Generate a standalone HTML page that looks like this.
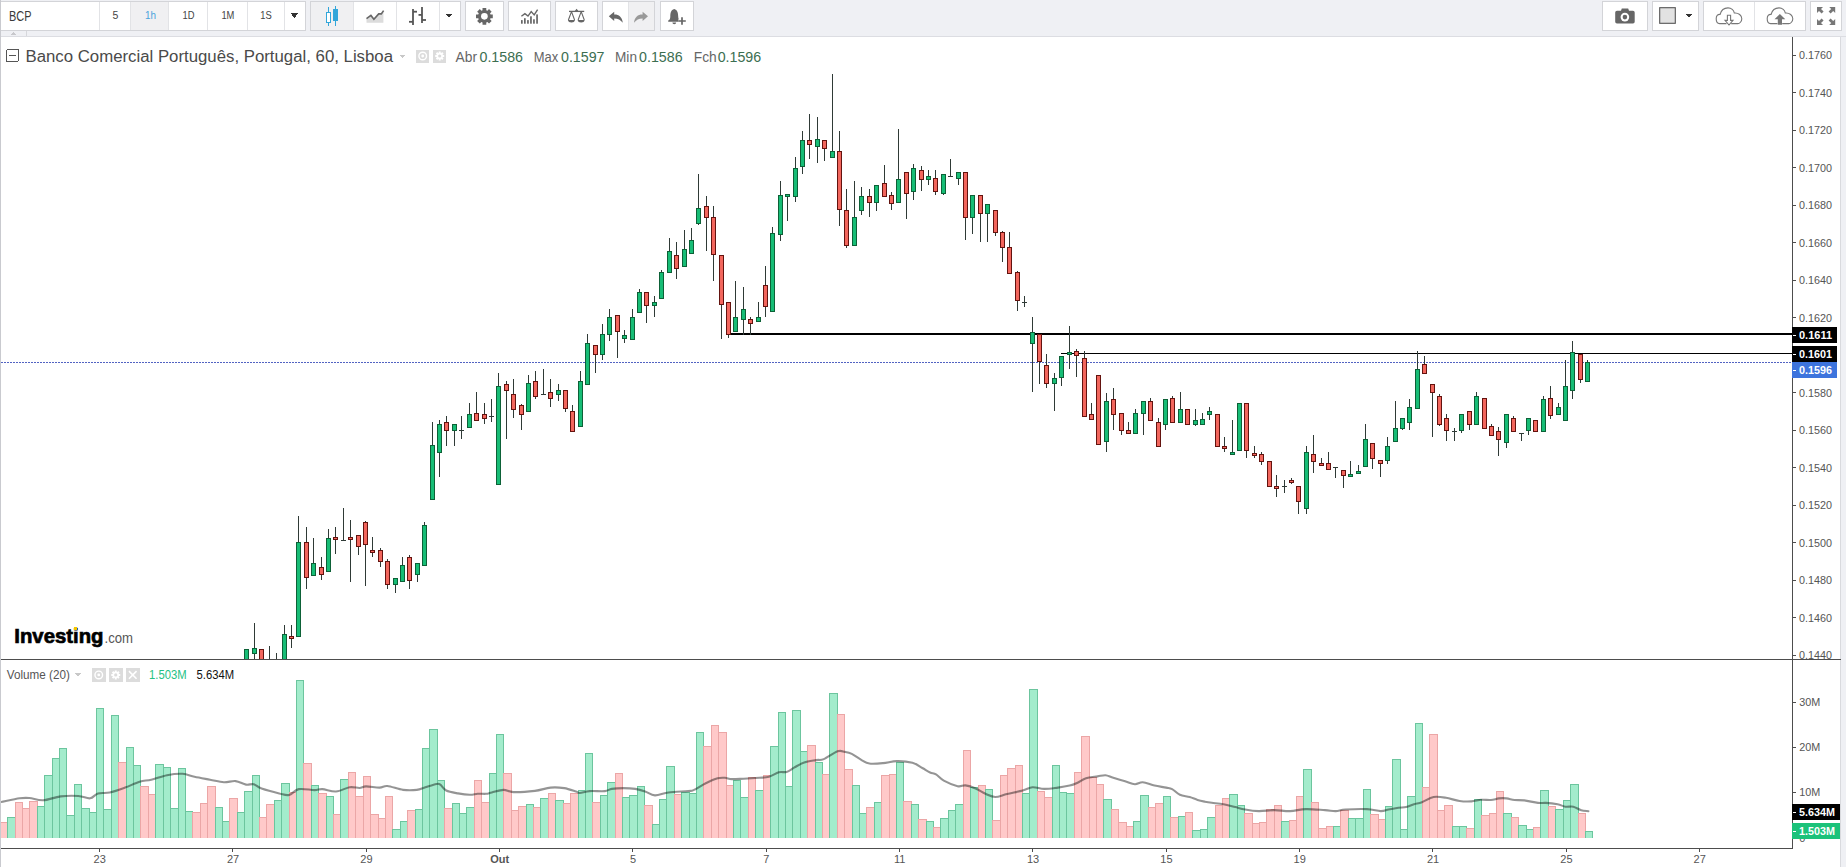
<!DOCTYPE html>
<html><head><meta charset="utf-8"><title>BCP chart</title>
<style>
html,body{margin:0;padding:0;background:#fff;width:1846px;height:867px;overflow:hidden;font-family:"Liberation Sans",sans-serif;}
svg{display:block;}
</style></head><body>
<svg width="1846" height="867" viewBox="0 0 1846 867" shape-rendering="crispEdges">
<defs>
<clipPath id="priceclip"><rect x="1" y="37" width="1791" height="622"/></clipPath>
<clipPath id="volclip"><rect x="1" y="660" width="1791" height="178"/></clipPath>
</defs>
<rect x="0" y="0" width="1846" height="37" fill="#eff0f4"/>
<rect x="0" y="36" width="1846" height="1" fill="#dcdde2"/>
<rect x="0.5" y="1.5" width="305" height="29" fill="#fff" stroke="#d3d4d8" stroke-width="1"/>
<rect x="131" y="2" width="37" height="28" fill="#f0f0f2"/>
<rect x="99" y="2" width="1" height="28" fill="#e2e3e6"/>
<rect x="130" y="2" width="1" height="28" fill="#e2e3e6"/>
<rect x="168" y="2" width="1" height="28" fill="#e2e3e6"/>
<rect x="207" y="2" width="1" height="28" fill="#e2e3e6"/>
<rect x="247" y="2" width="1" height="28" fill="#e2e3e6"/>
<rect x="284" y="2" width="1" height="28" fill="#e2e3e6"/>
<rect x="310.5" y="1.5" width="150" height="29" fill="#fff" stroke="#d3d4d8" stroke-width="1"/>
<rect x="311" y="2" width="42" height="28" fill="#f0f0f2"/>
<rect x="353" y="2" width="1" height="28" fill="#e2e3e6"/>
<rect x="396" y="2" width="1" height="28" fill="#e2e3e6"/>
<rect x="439" y="2" width="1" height="28" fill="#e2e3e6"/>
<rect x="465.5" y="1.5" width="38" height="29" fill="#fff" stroke="#d3d4d8" stroke-width="1"/>
<rect x="508.5" y="1.5" width="42" height="29" fill="#fff" stroke="#d3d4d8" stroke-width="1"/>
<rect x="555.5" y="1.5" width="42" height="29" fill="#fff" stroke="#d3d4d8" stroke-width="1"/>
<rect x="602.5" y="1.5" width="52" height="29" fill="#fff" stroke="#d3d4d8" stroke-width="1"/>
<rect x="629" y="2" width="25" height="28" fill="#f0f0f2"/>
<rect x="628" y="2" width="1" height="28" fill="#e2e3e6"/>
<rect x="660.5" y="1.5" width="33" height="29" fill="#fff" stroke="#d3d4d8" stroke-width="1"/>
<rect x="1602.5" y="1.5" width="45" height="29" fill="#fff" stroke="#d3d4d8" stroke-width="1"/>
<rect x="1652.5" y="1.5" width="46" height="29" fill="#fff" stroke="#d3d4d8" stroke-width="1"/>
<rect x="1703.5" y="1.5" width="102" height="29" fill="#fff" stroke="#d3d4d8" stroke-width="1"/>
<rect x="1754" y="2" width="1" height="28" fill="#e2e3e6"/>
<rect x="1810.5" y="1.5" width="31" height="29" fill="#fff" stroke="#d3d4d8" stroke-width="1"/>
<text x="9" y="21" font-family='"Liberation Sans", sans-serif' font-size="14" fill="#3a3a3a" text-anchor="start" font-weight="normal" textLength="22.5" lengthAdjust="spacingAndGlyphs">BCP</text>
<text x="115.3" y="19.2" font-family='"Liberation Sans", sans-serif' font-size="10.5" fill="#444" text-anchor="middle" font-weight="normal">5</text>
<text x="150.4" y="19.2" font-family='"Liberation Sans", sans-serif' font-size="10.5" fill="#4aa3dc" text-anchor="middle" font-weight="normal" textLength="11" lengthAdjust="spacingAndGlyphs">1h</text>
<text x="188.6" y="19.2" font-family='"Liberation Sans", sans-serif' font-size="10.5" fill="#444" text-anchor="middle" font-weight="normal" textLength="12" lengthAdjust="spacingAndGlyphs">1D</text>
<text x="227.9" y="19.2" font-family='"Liberation Sans", sans-serif' font-size="10.5" fill="#444" text-anchor="middle" font-weight="normal" textLength="13" lengthAdjust="spacingAndGlyphs">1M</text>
<text x="266" y="19.2" font-family='"Liberation Sans", sans-serif' font-size="10.5" fill="#444" text-anchor="middle" font-weight="normal" textLength="11.5" lengthAdjust="spacingAndGlyphs">1S</text>
<path d="M290.5 13.25 L298.5 13.25 L294.5 17.75 Z" fill="#333"/>
<path d="M445.25 14.0 L452.75 14.0 L449 18.0 Z" fill="#333"/>
<path d="M1685.25 14.0 L1692.75 14.0 L1689 18.0 Z" fill="#333"/>
<g shape-rendering="geometricPrecision">
<g stroke="#32a6da" stroke-width="1" fill="none"><line x1="328.5" y1="7" x2="328.5" y2="26"/><rect x="326.5" y="12.5" width="4" height="10" fill="#fff"/><line x1="335.5" y1="6" x2="335.5" y2="26"/><rect x="333.5" y="9.5" width="4" height="11" fill="#32a6da"/></g>
<path d="M366.5 22.7 L366.5 18.6 L370.9 15.4 L373.9 19.2 L378.7 13.9 L381.3 13.9 L383.4 10.8 L383.4 22.7 Z" fill="#dcdcdc"/>
<polyline points="366.5,18.6 370.9,15.4 373.9,19.2 378.7,13.9 381.3,13.9 383.6,10.6" fill="none" stroke="#666" stroke-width="1.6"/>
<g stroke="#555" stroke-width="1.8" fill="none"><line x1="413" y1="9" x2="413" y2="25"/><line x1="409" y1="21.8" x2="413" y2="21.8"/><line x1="413" y1="11.7" x2="417" y2="11.7"/><line x1="422" y1="7" x2="422" y2="23"/><line x1="418.5" y1="14.9" x2="422" y2="14.9"/><line x1="422" y1="20" x2="426" y2="20"/></g>
<path d="M482.53 10.18 L482.52 7.91 L486.28 7.91 L486.27 10.18 L487.40 10.65 L489.01 9.04 L491.66 11.69 L490.05 13.30 L490.52 14.43 L492.79 14.42 L492.79 18.18 L490.52 18.17 L490.05 19.30 L491.66 20.91 L489.01 23.56 L487.40 21.95 L486.27 22.42 L486.28 24.69 L482.52 24.69 L482.53 22.42 L481.40 21.95 L479.79 23.56 L477.14 20.91 L478.75 19.30 L478.28 18.17 L476.01 18.18 L476.01 14.42 L478.28 14.43 L478.75 13.30 L477.14 11.69 L479.79 9.04 L481.40 10.65 Z" fill="#666"/>
<circle cx="484.4" cy="16.3" r="3.33" fill="#fff"/>
<g fill="#666"><rect x="521.0" y="20.1" width="1.7" height="3.599999999999998"/><rect x="524.0" y="18.2" width="1.7" height="5.5"/><rect x="527.1" y="20.1" width="1.7" height="3.599999999999998"/><rect x="530.1" y="16.3" width="1.7" height="7.399999999999999"/><rect x="533.1" y="19.3" width="1.7" height="4.399999999999999"/><rect x="536.2" y="14.4" width="1.7" height="9.299999999999999"/></g>
<polyline points="521.4,16.2 524.9,13.6 528,16.1 531.2,11.6 534.2,14.9 537.6,9.6" fill="none" stroke="#666" stroke-width="1.4"/>
<g stroke="#666" stroke-width="1.1" fill="none"><line x1="569" y1="11.4" x2="584.2" y2="11.4" stroke-width="1.3"/><path d="M576.6 9.6 L575.2 11.4 L578 11.4 Z" fill="#666"/><path d="M571.5 11.6 L568.4 20 M571.5 11.6 L574.6 20"/><path d="M581.2 11.6 L578.1 20 M581.2 11.6 L584.3 20"/></g>
<path d="M567.9 20 L575 20 A3.6 3 0 0 1 567.9 20 Z" fill="#666"/>
<path d="M577.6 20 L584.7 20 A3.6 3 0 0 1 577.6 20 Z" fill="#666"/>
<path d="M608.8 16.2 L614.2 11.8 L614.2 14.6 C618.5 14.4 622.2 17 622.8 22.8 C620.6 19.8 618 18.4 614.2 18.4 L614.2 21 Z" fill="#666"/>
<path d="M648 16.2 L642.6 11.8 L642.6 14.6 C638.3 14.4 634.6 17 634 22.8 C636.2 19.8 638.8 18.4 642.6 18.4 L642.6 21 Z" fill="#999"/>
<path d="M674.2 9 C671 9.8 670.3 13 670.3 16.5 C670.3 18.8 669.6 20.2 668.2 20.6 L668.2 21.8 L680.5 21.8 L680.5 20.6 C679 20.2 678.2 18.8 678.2 16.5 C678.2 13 677.4 9.8 674.2 9 Z" fill="#666"/>
<path d="M672.4 22.6 A1.9 1.6 0 0 0 676.2 22.6 Z" fill="#666"/>
<path d="M678.3 21 L685.8 21 M682 17.2 L682 24.8" stroke="#fff" stroke-width="3.6"/>
<path d="M678.3 21 L685.8 21 M682 17.2 L682 24.8" stroke="#666" stroke-width="1.7"/>
<path d="M1617 10.8 L1621 10.8 L1621.8 8.4 L1628.2 8.4 L1629 10.8 L1633 10.8 Q1634.7 10.8 1634.7 12.5 L1634.7 21.8 Q1634.7 23.5 1633 23.5 L1617 23.5 Q1615.2 23.5 1615.2 21.8 L1615.2 12.5 Q1615.2 10.8 1617 10.8 Z" fill="#666"/>
<circle cx="1624.9" cy="17.1" r="4.3" fill="#fff"/><circle cx="1624.9" cy="17.1" r="2.3" fill="#666"/>
<rect x="1659.7" y="7.7" width="15.6" height="15.6" fill="#e2e2e2" stroke="#555" stroke-width="1.1"/>
<path d="M1726.5 23.6 L1719.6 23.6 C1717.3 23.6 1716.2 21 1716.2 18.8 C1716.2 16 1717.6 14.2 1720.1 14.4 C1721.2 10 1724.8 7.9 1728.0 7.9 C1731.4 7.9 1733.8 10.5 1734.3 13 C1738.6 12.6 1741.8 15.5 1741.8 18.8 C1741.8 21.6 1739.5 23.6 1737.8 23.6 L1731.2 23.6" fill="none" stroke="#777" stroke-width="1.1"/>
<path d="M1727.4 15.3 L1730.6 15.3 L1730.6 20.4 L1733 20.4 L1729 25 L1725 20.4 L1727.4 20.4 Z" fill="#fff" stroke="#777" stroke-width="1.1"/>
<path d="M1777.5 23.6 L1770.6 23.6 C1768.3 23.6 1767.2 21 1767.2 18.8 C1767.2 16 1768.6 14.2 1771.1 14.4 C1772.2 10 1775.8 7.9 1779.0 7.9 C1782.4 7.9 1784.8 10.5 1785.3 13 C1789.6 12.6 1792.8 15.5 1792.8 18.8 C1792.8 21.6 1790.5 23.6 1788.8 23.6 L1782.2 23.6" fill="none" stroke="#777" stroke-width="1.1"/>
<path d="M1779.9 14 L1785.3 19.3 L1782 19.3 L1782 24.8 L1777.8 24.8 L1777.8 19.3 L1774.5 19.3 Z" fill="#777"/>
<g fill="#777"><path d="M1817 7 L1823 7 L1821 9 L1823.6 11.6 L1821.6 13.6 L1819 11 L1817 13 Z"/><path d="M1835.2 7 L1829.2 7 L1831.2 9 L1828.6 11.6 L1830.6 13.6 L1833.2 11 L1835.2 13 Z"/><path d="M1817 25 L1823 25 L1821 23 L1823.6 20.4 L1821.6 18.4 L1819 21 L1817 19 Z"/><path d="M1835.2 25 L1829.2 25 L1831.2 23 L1828.6 20.4 L1830.6 18.4 L1833.2 21 L1835.2 19 Z"/></g>
</g>
<path d="M10.5 35 L13.5 32.3 L16.5 35 Z" fill="#c8c8cc"/>
<rect x="26" y="31" width="1" height="5" fill="#d6d7db"/>
<rect x="0" y="37" width="1840" height="830" fill="#fff"/>
<rect x="1840" y="37" width="1" height="830" fill="#d9dade"/>
<rect x="1841" y="37" width="5" height="830" fill="#eff0f4"/>
<rect x="0" y="0" width="1" height="867" fill="#c9cacf"/>
<g clip-path="url(#volclip)">
<rect x="0.5" y="822.3" width="7" height="23.2" fill="#ffc9c9" stroke="#eba6a6" stroke-width="1"/>
<rect x="7.5" y="817.5" width="8" height="28.0" fill="#a3eccc" stroke="#6cc59e" stroke-width="1"/>
<rect x="15.5" y="802.7" width="7" height="42.8" fill="#ffc9c9" stroke="#eba6a6" stroke-width="1"/>
<rect x="22.5" y="808.6" width="7" height="36.9" fill="#ffc9c9" stroke="#eba6a6" stroke-width="1"/>
<rect x="29.5" y="801.4" width="8" height="44.1" fill="#ffc9c9" stroke="#eba6a6" stroke-width="1"/>
<rect x="37.5" y="806.7" width="7" height="38.8" fill="#a3eccc" stroke="#6cc59e" stroke-width="1"/>
<rect x="44.5" y="775.7" width="8" height="69.8" fill="#a3eccc" stroke="#6cc59e" stroke-width="1"/>
<rect x="52.5" y="758.7" width="7" height="86.8" fill="#a3eccc" stroke="#6cc59e" stroke-width="1"/>
<rect x="59.5" y="748.5" width="7" height="97.0" fill="#a3eccc" stroke="#6cc59e" stroke-width="1"/>
<rect x="66.5" y="815.5" width="8" height="30.0" fill="#a3eccc" stroke="#6cc59e" stroke-width="1"/>
<rect x="74.5" y="784.5" width="7" height="61.0" fill="#a3eccc" stroke="#6cc59e" stroke-width="1"/>
<rect x="81.5" y="808.6" width="8" height="36.9" fill="#a3eccc" stroke="#6cc59e" stroke-width="1"/>
<rect x="89.5" y="812.5" width="7" height="33.0" fill="#a3eccc" stroke="#6cc59e" stroke-width="1"/>
<rect x="96.5" y="708.7" width="7" height="136.8" fill="#a3eccc" stroke="#6cc59e" stroke-width="1"/>
<rect x="103.5" y="809.6" width="8" height="35.9" fill="#a3eccc" stroke="#6cc59e" stroke-width="1"/>
<rect x="111.5" y="715.6" width="7" height="129.9" fill="#a3eccc" stroke="#6cc59e" stroke-width="1"/>
<rect x="118.5" y="762.6" width="8" height="82.9" fill="#ffc9c9" stroke="#eba6a6" stroke-width="1"/>
<rect x="126.5" y="747.9" width="7" height="97.6" fill="#a3eccc" stroke="#6cc59e" stroke-width="1"/>
<rect x="133.5" y="765.9" width="7" height="79.6" fill="#a3eccc" stroke="#6cc59e" stroke-width="1"/>
<rect x="140.5" y="786.7" width="8" height="58.8" fill="#ffc9c9" stroke="#eba6a6" stroke-width="1"/>
<rect x="148.5" y="794.5" width="7" height="51.0" fill="#ffc9c9" stroke="#eba6a6" stroke-width="1"/>
<rect x="155.5" y="764.0" width="8" height="81.5" fill="#a3eccc" stroke="#6cc59e" stroke-width="1"/>
<rect x="163.5" y="767.9" width="7" height="77.6" fill="#a3eccc" stroke="#6cc59e" stroke-width="1"/>
<rect x="170.5" y="808.6" width="8" height="36.9" fill="#a3eccc" stroke="#6cc59e" stroke-width="1"/>
<rect x="178.5" y="768.5" width="7" height="77.0" fill="#a3eccc" stroke="#6cc59e" stroke-width="1"/>
<rect x="185.5" y="811.6" width="7" height="33.9" fill="#a3eccc" stroke="#6cc59e" stroke-width="1"/>
<rect x="192.5" y="812.5" width="8" height="33.0" fill="#ffc9c9" stroke="#eba6a6" stroke-width="1"/>
<rect x="200.5" y="803.7" width="7" height="41.8" fill="#ffc9c9" stroke="#eba6a6" stroke-width="1"/>
<rect x="207.5" y="786.7" width="8" height="58.8" fill="#ffc9c9" stroke="#eba6a6" stroke-width="1"/>
<rect x="215.5" y="807.6" width="7" height="37.9" fill="#a3eccc" stroke="#6cc59e" stroke-width="1"/>
<rect x="222.5" y="821.4" width="7" height="24.1" fill="#a3eccc" stroke="#6cc59e" stroke-width="1"/>
<rect x="229.5" y="798.5" width="8" height="47.0" fill="#ffc9c9" stroke="#eba6a6" stroke-width="1"/>
<rect x="237.5" y="812.7" width="7" height="32.8" fill="#a3eccc" stroke="#6cc59e" stroke-width="1"/>
<rect x="244.5" y="791.6" width="8" height="53.9" fill="#a3eccc" stroke="#6cc59e" stroke-width="1"/>
<rect x="252.5" y="775.9" width="7" height="69.6" fill="#a3eccc" stroke="#6cc59e" stroke-width="1"/>
<rect x="259.5" y="817.5" width="7" height="28.0" fill="#ffc9c9" stroke="#eba6a6" stroke-width="1"/>
<rect x="266.5" y="804.7" width="8" height="40.8" fill="#ffc9c9" stroke="#eba6a6" stroke-width="1"/>
<rect x="274.5" y="800.4" width="7" height="45.1" fill="#a3eccc" stroke="#6cc59e" stroke-width="1"/>
<rect x="281.5" y="783.7" width="8" height="61.8" fill="#a3eccc" stroke="#6cc59e" stroke-width="1"/>
<rect x="289.5" y="792.0" width="7" height="53.5" fill="#ffc9c9" stroke="#eba6a6" stroke-width="1"/>
<rect x="296.5" y="680.7" width="7" height="164.8" fill="#a3eccc" stroke="#6cc59e" stroke-width="1"/>
<rect x="303.5" y="763.8" width="8" height="81.7" fill="#ffc9c9" stroke="#eba6a6" stroke-width="1"/>
<rect x="311.5" y="785.7" width="7" height="59.8" fill="#a3eccc" stroke="#6cc59e" stroke-width="1"/>
<rect x="318.5" y="793.5" width="8" height="52.0" fill="#ffc9c9" stroke="#eba6a6" stroke-width="1"/>
<rect x="326.5" y="796.5" width="7" height="49.0" fill="#a3eccc" stroke="#6cc59e" stroke-width="1"/>
<rect x="333.5" y="814.5" width="7" height="31.0" fill="#ffc9c9" stroke="#eba6a6" stroke-width="1"/>
<rect x="340.5" y="779.6" width="8" height="65.9" fill="#a3eccc" stroke="#6cc59e" stroke-width="1"/>
<rect x="348.5" y="772.6" width="7" height="72.9" fill="#ffc9c9" stroke="#eba6a6" stroke-width="1"/>
<rect x="355.5" y="796.5" width="8" height="49.0" fill="#ffc9c9" stroke="#eba6a6" stroke-width="1"/>
<rect x="363.5" y="776.7" width="7" height="68.8" fill="#ffc9c9" stroke="#eba6a6" stroke-width="1"/>
<rect x="370.5" y="814.5" width="8" height="31.0" fill="#ffc9c9" stroke="#eba6a6" stroke-width="1"/>
<rect x="378.5" y="818.4" width="7" height="27.1" fill="#ffc9c9" stroke="#eba6a6" stroke-width="1"/>
<rect x="385.5" y="796.5" width="7" height="49.0" fill="#ffc9c9" stroke="#eba6a6" stroke-width="1"/>
<rect x="392.5" y="829.6" width="8" height="15.9" fill="#a3eccc" stroke="#6cc59e" stroke-width="1"/>
<rect x="400.5" y="821.4" width="7" height="24.1" fill="#a3eccc" stroke="#6cc59e" stroke-width="1"/>
<rect x="407.5" y="810.6" width="8" height="34.9" fill="#ffc9c9" stroke="#eba6a6" stroke-width="1"/>
<rect x="415.5" y="809.6" width="7" height="35.9" fill="#a3eccc" stroke="#6cc59e" stroke-width="1"/>
<rect x="422.5" y="748.5" width="7" height="97.0" fill="#a3eccc" stroke="#6cc59e" stroke-width="1"/>
<rect x="429.5" y="729.3" width="8" height="116.2" fill="#a3eccc" stroke="#6cc59e" stroke-width="1"/>
<rect x="437.5" y="780.6" width="7" height="64.9" fill="#a3eccc" stroke="#6cc59e" stroke-width="1"/>
<rect x="444.5" y="808.6" width="8" height="36.9" fill="#ffc9c9" stroke="#eba6a6" stroke-width="1"/>
<rect x="452.5" y="803.7" width="7" height="41.8" fill="#a3eccc" stroke="#6cc59e" stroke-width="1"/>
<rect x="459.5" y="813.5" width="7" height="32.0" fill="#a3eccc" stroke="#6cc59e" stroke-width="1"/>
<rect x="466.5" y="807.6" width="8" height="37.9" fill="#a3eccc" stroke="#6cc59e" stroke-width="1"/>
<rect x="474.5" y="780.8" width="7" height="64.7" fill="#ffc9c9" stroke="#eba6a6" stroke-width="1"/>
<rect x="481.5" y="802.7" width="8" height="42.8" fill="#ffc9c9" stroke="#eba6a6" stroke-width="1"/>
<rect x="489.5" y="773.8" width="7" height="71.7" fill="#a3eccc" stroke="#6cc59e" stroke-width="1"/>
<rect x="496.5" y="734.6" width="7" height="110.9" fill="#a3eccc" stroke="#6cc59e" stroke-width="1"/>
<rect x="503.5" y="773.8" width="8" height="71.7" fill="#ffc9c9" stroke="#eba6a6" stroke-width="1"/>
<rect x="511.5" y="810.6" width="7" height="34.9" fill="#ffc9c9" stroke="#eba6a6" stroke-width="1"/>
<rect x="518.5" y="806.7" width="8" height="38.8" fill="#ffc9c9" stroke="#eba6a6" stroke-width="1"/>
<rect x="526.5" y="804.7" width="7" height="40.8" fill="#a3eccc" stroke="#6cc59e" stroke-width="1"/>
<rect x="533.5" y="807.6" width="7" height="37.9" fill="#ffc9c9" stroke="#eba6a6" stroke-width="1"/>
<rect x="540.5" y="798.4" width="8" height="47.1" fill="#a3eccc" stroke="#6cc59e" stroke-width="1"/>
<rect x="548.5" y="793.5" width="7" height="52.0" fill="#ffc9c9" stroke="#eba6a6" stroke-width="1"/>
<rect x="555.5" y="800.4" width="8" height="45.1" fill="#a3eccc" stroke="#6cc59e" stroke-width="1"/>
<rect x="563.5" y="803.7" width="7" height="41.8" fill="#ffc9c9" stroke="#eba6a6" stroke-width="1"/>
<rect x="570.5" y="793.5" width="8" height="52.0" fill="#ffc9c9" stroke="#eba6a6" stroke-width="1"/>
<rect x="578.5" y="790.4" width="7" height="55.1" fill="#a3eccc" stroke="#6cc59e" stroke-width="1"/>
<rect x="585.5" y="753.8" width="7" height="91.7" fill="#a3eccc" stroke="#6cc59e" stroke-width="1"/>
<rect x="592.5" y="802.7" width="8" height="42.8" fill="#ffc9c9" stroke="#eba6a6" stroke-width="1"/>
<rect x="600.5" y="795.5" width="7" height="50.0" fill="#a3eccc" stroke="#6cc59e" stroke-width="1"/>
<rect x="607.5" y="782.8" width="8" height="62.7" fill="#a3eccc" stroke="#6cc59e" stroke-width="1"/>
<rect x="615.5" y="773.8" width="7" height="71.7" fill="#ffc9c9" stroke="#eba6a6" stroke-width="1"/>
<rect x="622.5" y="797.8" width="7" height="47.7" fill="#a3eccc" stroke="#6cc59e" stroke-width="1"/>
<rect x="629.5" y="795.5" width="8" height="50.0" fill="#a3eccc" stroke="#6cc59e" stroke-width="1"/>
<rect x="637.5" y="786.7" width="7" height="58.8" fill="#a3eccc" stroke="#6cc59e" stroke-width="1"/>
<rect x="644.5" y="805.7" width="8" height="39.8" fill="#ffc9c9" stroke="#eba6a6" stroke-width="1"/>
<rect x="652.5" y="824.7" width="7" height="20.8" fill="#a3eccc" stroke="#6cc59e" stroke-width="1"/>
<rect x="659.5" y="799.4" width="7" height="46.1" fill="#a3eccc" stroke="#6cc59e" stroke-width="1"/>
<rect x="666.5" y="766.5" width="8" height="79.0" fill="#a3eccc" stroke="#6cc59e" stroke-width="1"/>
<rect x="674.5" y="794.3" width="7" height="51.2" fill="#ffc9c9" stroke="#eba6a6" stroke-width="1"/>
<rect x="681.5" y="792.0" width="8" height="53.5" fill="#a3eccc" stroke="#6cc59e" stroke-width="1"/>
<rect x="689.5" y="793.0" width="7" height="52.5" fill="#a3eccc" stroke="#6cc59e" stroke-width="1"/>
<rect x="696.5" y="732.8" width="7" height="112.7" fill="#a3eccc" stroke="#6cc59e" stroke-width="1"/>
<rect x="703.5" y="746.5" width="8" height="99.0" fill="#ffc9c9" stroke="#eba6a6" stroke-width="1"/>
<rect x="711.5" y="725.7" width="7" height="119.8" fill="#ffc9c9" stroke="#eba6a6" stroke-width="1"/>
<rect x="718.5" y="732.8" width="8" height="112.7" fill="#ffc9c9" stroke="#eba6a6" stroke-width="1"/>
<rect x="726.5" y="785.7" width="7" height="59.8" fill="#ffc9c9" stroke="#eba6a6" stroke-width="1"/>
<rect x="733.5" y="780.8" width="7" height="64.7" fill="#a3eccc" stroke="#6cc59e" stroke-width="1"/>
<rect x="740.5" y="797.5" width="8" height="48.0" fill="#a3eccc" stroke="#6cc59e" stroke-width="1"/>
<rect x="748.5" y="777.9" width="7" height="67.6" fill="#ffc9c9" stroke="#eba6a6" stroke-width="1"/>
<rect x="755.5" y="790.6" width="8" height="54.9" fill="#a3eccc" stroke="#6cc59e" stroke-width="1"/>
<rect x="763.5" y="775.7" width="7" height="69.8" fill="#ffc9c9" stroke="#eba6a6" stroke-width="1"/>
<rect x="770.5" y="746.5" width="8" height="99.0" fill="#a3eccc" stroke="#6cc59e" stroke-width="1"/>
<rect x="778.5" y="712.6" width="7" height="132.9" fill="#a3eccc" stroke="#6cc59e" stroke-width="1"/>
<rect x="785.5" y="786.7" width="7" height="58.8" fill="#a3eccc" stroke="#6cc59e" stroke-width="1"/>
<rect x="792.5" y="710.7" width="8" height="134.8" fill="#a3eccc" stroke="#6cc59e" stroke-width="1"/>
<rect x="800.5" y="751.8" width="7" height="93.7" fill="#a3eccc" stroke="#6cc59e" stroke-width="1"/>
<rect x="807.5" y="745.5" width="8" height="100.0" fill="#ffc9c9" stroke="#eba6a6" stroke-width="1"/>
<rect x="815.5" y="762.6" width="7" height="82.9" fill="#a3eccc" stroke="#6cc59e" stroke-width="1"/>
<rect x="822.5" y="774.7" width="7" height="70.8" fill="#ffc9c9" stroke="#eba6a6" stroke-width="1"/>
<rect x="829.5" y="693.6" width="8" height="151.9" fill="#a3eccc" stroke="#6cc59e" stroke-width="1"/>
<rect x="837.5" y="714.6" width="7" height="130.9" fill="#ffc9c9" stroke="#eba6a6" stroke-width="1"/>
<rect x="844.5" y="769.4" width="8" height="76.1" fill="#ffc9c9" stroke="#eba6a6" stroke-width="1"/>
<rect x="852.5" y="785.5" width="7" height="60.0" fill="#a3eccc" stroke="#6cc59e" stroke-width="1"/>
<rect x="859.5" y="813.5" width="7" height="32.0" fill="#a3eccc" stroke="#6cc59e" stroke-width="1"/>
<rect x="866.5" y="807.6" width="8" height="37.9" fill="#ffc9c9" stroke="#eba6a6" stroke-width="1"/>
<rect x="874.5" y="802.7" width="7" height="42.8" fill="#a3eccc" stroke="#6cc59e" stroke-width="1"/>
<rect x="881.5" y="775.7" width="8" height="69.8" fill="#ffc9c9" stroke="#eba6a6" stroke-width="1"/>
<rect x="889.5" y="774.7" width="7" height="70.8" fill="#ffc9c9" stroke="#eba6a6" stroke-width="1"/>
<rect x="896.5" y="762.2" width="7" height="83.3" fill="#a3eccc" stroke="#6cc59e" stroke-width="1"/>
<rect x="903.5" y="801.4" width="8" height="44.1" fill="#ffc9c9" stroke="#eba6a6" stroke-width="1"/>
<rect x="911.5" y="804.7" width="7" height="40.8" fill="#a3eccc" stroke="#6cc59e" stroke-width="1"/>
<rect x="918.5" y="819.8" width="8" height="25.7" fill="#ffc9c9" stroke="#eba6a6" stroke-width="1"/>
<rect x="926.5" y="821.4" width="7" height="24.1" fill="#a3eccc" stroke="#6cc59e" stroke-width="1"/>
<rect x="933.5" y="827.2" width="7" height="18.3" fill="#ffc9c9" stroke="#eba6a6" stroke-width="1"/>
<rect x="940.5" y="818.4" width="8" height="27.1" fill="#a3eccc" stroke="#6cc59e" stroke-width="1"/>
<rect x="948.5" y="810.6" width="7" height="34.9" fill="#a3eccc" stroke="#6cc59e" stroke-width="1"/>
<rect x="955.5" y="804.7" width="8" height="40.8" fill="#a3eccc" stroke="#6cc59e" stroke-width="1"/>
<rect x="963.5" y="750.4" width="7" height="95.1" fill="#ffc9c9" stroke="#eba6a6" stroke-width="1"/>
<rect x="970.5" y="787.7" width="8" height="57.8" fill="#a3eccc" stroke="#6cc59e" stroke-width="1"/>
<rect x="978.5" y="785.5" width="7" height="60.0" fill="#ffc9c9" stroke="#eba6a6" stroke-width="1"/>
<rect x="985.5" y="789.6" width="7" height="55.9" fill="#a3eccc" stroke="#6cc59e" stroke-width="1"/>
<rect x="992.5" y="820.8" width="8" height="24.7" fill="#ffc9c9" stroke="#eba6a6" stroke-width="1"/>
<rect x="1000.5" y="775.7" width="7" height="69.8" fill="#ffc9c9" stroke="#eba6a6" stroke-width="1"/>
<rect x="1007.5" y="768.5" width="8" height="77.0" fill="#ffc9c9" stroke="#eba6a6" stroke-width="1"/>
<rect x="1015.5" y="765.5" width="7" height="80.0" fill="#ffc9c9" stroke="#eba6a6" stroke-width="1"/>
<rect x="1022.5" y="793.0" width="7" height="52.5" fill="#a3eccc" stroke="#6cc59e" stroke-width="1"/>
<rect x="1029.5" y="689.5" width="8" height="156.0" fill="#a3eccc" stroke="#6cc59e" stroke-width="1"/>
<rect x="1037.5" y="791.6" width="7" height="53.9" fill="#ffc9c9" stroke="#eba6a6" stroke-width="1"/>
<rect x="1044.5" y="797.5" width="8" height="48.0" fill="#ffc9c9" stroke="#eba6a6" stroke-width="1"/>
<rect x="1052.5" y="765.5" width="7" height="80.0" fill="#a3eccc" stroke="#6cc59e" stroke-width="1"/>
<rect x="1059.5" y="792.6" width="7" height="52.9" fill="#a3eccc" stroke="#6cc59e" stroke-width="1"/>
<rect x="1066.5" y="793.5" width="8" height="52.0" fill="#a3eccc" stroke="#6cc59e" stroke-width="1"/>
<rect x="1074.5" y="772.4" width="7" height="73.1" fill="#ffc9c9" stroke="#eba6a6" stroke-width="1"/>
<rect x="1081.5" y="736.5" width="8" height="109.0" fill="#ffc9c9" stroke="#eba6a6" stroke-width="1"/>
<rect x="1089.5" y="777.3" width="7" height="68.2" fill="#ffc9c9" stroke="#eba6a6" stroke-width="1"/>
<rect x="1096.5" y="784.5" width="7" height="61.0" fill="#ffc9c9" stroke="#eba6a6" stroke-width="1"/>
<rect x="1103.5" y="799.8" width="8" height="45.7" fill="#a3eccc" stroke="#6cc59e" stroke-width="1"/>
<rect x="1111.5" y="809.6" width="7" height="35.9" fill="#ffc9c9" stroke="#eba6a6" stroke-width="1"/>
<rect x="1118.5" y="822.3" width="8" height="23.2" fill="#ffc9c9" stroke="#eba6a6" stroke-width="1"/>
<rect x="1126.5" y="826.7" width="7" height="18.8" fill="#ffc9c9" stroke="#eba6a6" stroke-width="1"/>
<rect x="1133.5" y="821.8" width="7" height="23.7" fill="#a3eccc" stroke="#6cc59e" stroke-width="1"/>
<rect x="1140.5" y="795.5" width="8" height="50.0" fill="#a3eccc" stroke="#6cc59e" stroke-width="1"/>
<rect x="1148.5" y="807.6" width="7" height="37.9" fill="#ffc9c9" stroke="#eba6a6" stroke-width="1"/>
<rect x="1155.5" y="803.7" width="8" height="41.8" fill="#ffc9c9" stroke="#eba6a6" stroke-width="1"/>
<rect x="1163.5" y="796.5" width="7" height="49.0" fill="#a3eccc" stroke="#6cc59e" stroke-width="1"/>
<rect x="1170.5" y="817.5" width="8" height="28.0" fill="#ffc9c9" stroke="#eba6a6" stroke-width="1"/>
<rect x="1178.5" y="816.5" width="7" height="29.0" fill="#a3eccc" stroke="#6cc59e" stroke-width="1"/>
<rect x="1185.5" y="812.5" width="7" height="33.0" fill="#ffc9c9" stroke="#eba6a6" stroke-width="1"/>
<rect x="1192.5" y="830.8" width="8" height="14.7" fill="#a3eccc" stroke="#6cc59e" stroke-width="1"/>
<rect x="1200.5" y="829.6" width="7" height="15.9" fill="#a3eccc" stroke="#6cc59e" stroke-width="1"/>
<rect x="1207.5" y="817.5" width="8" height="28.0" fill="#a3eccc" stroke="#6cc59e" stroke-width="1"/>
<rect x="1215.5" y="805.3" width="7" height="40.2" fill="#ffc9c9" stroke="#eba6a6" stroke-width="1"/>
<rect x="1222.5" y="798.8" width="7" height="46.7" fill="#ffc9c9" stroke="#eba6a6" stroke-width="1"/>
<rect x="1229.5" y="794.5" width="8" height="51.0" fill="#a3eccc" stroke="#6cc59e" stroke-width="1"/>
<rect x="1237.5" y="805.7" width="7" height="39.8" fill="#a3eccc" stroke="#6cc59e" stroke-width="1"/>
<rect x="1244.5" y="813.5" width="8" height="32.0" fill="#ffc9c9" stroke="#eba6a6" stroke-width="1"/>
<rect x="1252.5" y="823.3" width="7" height="22.2" fill="#ffc9c9" stroke="#eba6a6" stroke-width="1"/>
<rect x="1259.5" y="822.7" width="7" height="22.8" fill="#ffc9c9" stroke="#eba6a6" stroke-width="1"/>
<rect x="1266.5" y="809.6" width="8" height="35.9" fill="#ffc9c9" stroke="#eba6a6" stroke-width="1"/>
<rect x="1274.5" y="805.7" width="7" height="39.8" fill="#ffc9c9" stroke="#eba6a6" stroke-width="1"/>
<rect x="1281.5" y="821.4" width="8" height="24.1" fill="#a3eccc" stroke="#6cc59e" stroke-width="1"/>
<rect x="1289.5" y="820.8" width="7" height="24.7" fill="#ffc9c9" stroke="#eba6a6" stroke-width="1"/>
<rect x="1296.5" y="796.5" width="7" height="49.0" fill="#ffc9c9" stroke="#eba6a6" stroke-width="1"/>
<rect x="1303.5" y="769.4" width="8" height="76.1" fill="#a3eccc" stroke="#6cc59e" stroke-width="1"/>
<rect x="1311.5" y="802.7" width="7" height="42.8" fill="#ffc9c9" stroke="#eba6a6" stroke-width="1"/>
<rect x="1318.5" y="828.6" width="8" height="16.9" fill="#ffc9c9" stroke="#eba6a6" stroke-width="1"/>
<rect x="1326.5" y="826.7" width="7" height="18.8" fill="#ffc9c9" stroke="#eba6a6" stroke-width="1"/>
<rect x="1333.5" y="826.7" width="7" height="18.8" fill="#a3eccc" stroke="#6cc59e" stroke-width="1"/>
<rect x="1340.5" y="810.0" width="8" height="35.5" fill="#ffc9c9" stroke="#eba6a6" stroke-width="1"/>
<rect x="1348.5" y="818.8" width="7" height="26.7" fill="#a3eccc" stroke="#6cc59e" stroke-width="1"/>
<rect x="1355.5" y="818.8" width="8" height="26.7" fill="#a3eccc" stroke="#6cc59e" stroke-width="1"/>
<rect x="1363.5" y="789.6" width="7" height="55.9" fill="#a3eccc" stroke="#6cc59e" stroke-width="1"/>
<rect x="1370.5" y="814.5" width="8" height="31.0" fill="#ffc9c9" stroke="#eba6a6" stroke-width="1"/>
<rect x="1378.5" y="819.4" width="7" height="26.1" fill="#ffc9c9" stroke="#eba6a6" stroke-width="1"/>
<rect x="1385.5" y="806.7" width="7" height="38.8" fill="#a3eccc" stroke="#6cc59e" stroke-width="1"/>
<rect x="1392.5" y="759.6" width="8" height="85.9" fill="#a3eccc" stroke="#6cc59e" stroke-width="1"/>
<rect x="1400.5" y="829.6" width="7" height="15.9" fill="#a3eccc" stroke="#6cc59e" stroke-width="1"/>
<rect x="1407.5" y="796.9" width="8" height="48.6" fill="#a3eccc" stroke="#6cc59e" stroke-width="1"/>
<rect x="1415.5" y="723.4" width="7" height="122.1" fill="#a3eccc" stroke="#6cc59e" stroke-width="1"/>
<rect x="1422.5" y="787.7" width="7" height="57.8" fill="#ffc9c9" stroke="#eba6a6" stroke-width="1"/>
<rect x="1429.5" y="734.6" width="8" height="110.9" fill="#ffc9c9" stroke="#eba6a6" stroke-width="1"/>
<rect x="1437.5" y="810.6" width="7" height="34.9" fill="#ffc9c9" stroke="#eba6a6" stroke-width="1"/>
<rect x="1444.5" y="805.7" width="8" height="39.8" fill="#ffc9c9" stroke="#eba6a6" stroke-width="1"/>
<rect x="1452.5" y="826.8" width="7" height="18.7" fill="#a3eccc" stroke="#6cc59e" stroke-width="1"/>
<rect x="1459.5" y="826.8" width="7" height="18.7" fill="#a3eccc" stroke="#6cc59e" stroke-width="1"/>
<rect x="1466.5" y="828.7" width="8" height="16.8" fill="#ffc9c9" stroke="#eba6a6" stroke-width="1"/>
<rect x="1474.5" y="799.9" width="7" height="45.6" fill="#a3eccc" stroke="#6cc59e" stroke-width="1"/>
<rect x="1481.5" y="815.6" width="8" height="29.9" fill="#ffc9c9" stroke="#eba6a6" stroke-width="1"/>
<rect x="1489.5" y="813.6" width="7" height="31.9" fill="#ffc9c9" stroke="#eba6a6" stroke-width="1"/>
<rect x="1496.5" y="791.7" width="7" height="53.8" fill="#ffc9c9" stroke="#eba6a6" stroke-width="1"/>
<rect x="1503.5" y="813.6" width="8" height="31.9" fill="#a3eccc" stroke="#6cc59e" stroke-width="1"/>
<rect x="1511.5" y="817.6" width="7" height="27.9" fill="#ffc9c9" stroke="#eba6a6" stroke-width="1"/>
<rect x="1518.5" y="825.8" width="8" height="19.7" fill="#a3eccc" stroke="#6cc59e" stroke-width="1"/>
<rect x="1526.5" y="829.7" width="7" height="15.8" fill="#a3eccc" stroke="#6cc59e" stroke-width="1"/>
<rect x="1533.5" y="827.8" width="7" height="17.7" fill="#ffc9c9" stroke="#eba6a6" stroke-width="1"/>
<rect x="1540.5" y="790.7" width="8" height="54.8" fill="#a3eccc" stroke="#6cc59e" stroke-width="1"/>
<rect x="1548.5" y="806.8" width="7" height="38.7" fill="#ffc9c9" stroke="#eba6a6" stroke-width="1"/>
<rect x="1555.5" y="809.7" width="8" height="35.8" fill="#a3eccc" stroke="#6cc59e" stroke-width="1"/>
<rect x="1563.5" y="800.5" width="7" height="45.0" fill="#a3eccc" stroke="#6cc59e" stroke-width="1"/>
<rect x="1570.5" y="784.6" width="8" height="60.9" fill="#a3eccc" stroke="#6cc59e" stroke-width="1"/>
<rect x="1578.5" y="813.6" width="7" height="31.9" fill="#ffc9c9" stroke="#eba6a6" stroke-width="1"/>
<rect x="1585.5" y="831.7" width="7" height="13.8" fill="#a3eccc" stroke="#6cc59e" stroke-width="1"/>
</g>
<path d="M0.0 802.2 C3.3 801.6 14.7 799.0 19.6 798.3 C24.5 797.6 25.5 797.7 29.4 798.0 C33.3 798.3 37.9 800.6 43.1 800.3 C48.3 800.0 54.8 797.1 60.7 796.4 C66.6 795.7 73.5 795.7 78.4 796.0 C83.3 796.3 86.8 798.7 90.1 798.3 C93.4 797.9 94.7 794.4 98.0 793.4 C101.3 792.4 105.2 793.5 109.7 792.5 C114.2 791.5 120.0 789.4 125.0 787.6 C130.0 785.8 135.2 783.0 139.6 781.7 C144.0 780.4 146.7 780.8 151.3 779.7 C155.9 778.6 161.8 776.2 167.0 775.2 C172.2 774.2 178.1 773.5 182.7 773.8 C187.3 774.1 189.9 775.8 194.5 776.8 C199.1 777.8 205.2 778.8 210.1 779.7 C215.0 780.6 219.6 782.1 223.8 782.3 C228.1 782.5 231.9 780.7 235.6 781.1 C239.3 781.5 243.0 784.1 246.0 784.6 C249.0 785.1 251.1 783.6 253.7 784.2 C256.3 784.9 257.4 787.0 261.6 788.5 C265.9 790.0 274.6 792.3 279.2 793.4 C283.8 794.5 285.7 795.7 289.0 795.0 C292.3 794.3 294.6 789.9 298.8 789.1 C303.1 788.3 310.6 790.1 314.5 790.1 C318.4 790.1 318.7 788.9 322.3 789.1 C325.9 789.3 331.4 791.8 336.0 791.5 C340.6 791.2 345.8 787.8 349.7 787.2 C353.6 786.6 356.8 788.1 359.5 788.0 C362.2 787.9 362.6 786.5 366.0 786.4 C369.4 786.3 376.0 787.7 379.6 787.6 C383.2 787.5 383.5 785.6 387.4 786.0 C391.3 786.4 398.2 789.2 403.1 789.9 C408.0 790.5 413.2 790.3 416.8 789.9 C420.4 789.5 421.4 788.6 424.7 787.6 C428.0 786.6 433.8 784.5 436.4 784.0 C439.0 783.5 438.7 783.5 440.3 784.6 C441.9 785.7 443.2 789.0 446.2 790.5 C449.1 792.0 454.1 792.7 458.0 793.4 C461.9 794.1 466.4 794.7 469.7 794.8 C473.0 794.9 474.9 794.0 477.6 793.8 C480.3 793.6 483.6 794.0 486.0 793.8 C488.4 793.6 488.9 793.1 491.8 792.5 C494.7 791.9 499.9 790.0 503.5 789.9 C507.1 789.8 508.1 791.9 513.3 792.1 C518.5 792.3 528.7 791.6 534.9 790.9 C541.1 790.1 545.6 788.1 550.5 787.6 C555.4 787.1 560.0 787.5 564.2 788.1 C568.5 788.8 573.4 790.7 576.0 791.5 C578.6 792.3 577.6 793.1 579.9 793.0 C582.2 792.9 585.5 791.4 589.7 791.1 C593.9 790.8 601.3 791.5 605.0 791.1 C608.7 790.7 608.7 789.4 611.8 788.9 C614.9 788.4 619.6 788.1 623.5 788.1 C627.4 788.1 631.7 788.3 635.3 788.9 C638.9 789.5 641.8 790.4 645.1 791.5 C648.4 792.6 651.0 795.2 654.9 795.4 C658.8 795.6 663.0 793.2 668.6 792.5 C674.2 791.8 684.0 791.5 688.2 791.1 C692.4 790.7 691.1 791.2 694.0 789.9 C696.9 788.6 701.9 785.1 705.8 783.2 C709.7 781.3 714.4 779.2 717.6 778.3 C720.8 777.4 722.6 777.7 725.0 777.8 C727.4 777.9 728.7 779.0 731.8 779.1 C734.9 779.2 738.9 778.9 743.5 778.7 C748.1 778.5 755.0 778.1 759.2 777.8 C763.5 777.5 765.7 777.7 769.0 776.8 C772.3 775.9 775.9 773.1 778.8 772.3 C781.7 771.5 784.0 772.7 786.6 771.9 C789.2 771.1 791.6 769.0 794.5 767.4 C797.4 765.8 800.6 763.7 804.2 762.5 C807.8 761.3 812.7 760.7 816.0 760.1 C819.3 759.5 820.2 760.6 823.8 759.1 C827.4 757.6 834.1 752.5 837.6 751.3 C841.1 750.1 842.6 751.5 845.0 751.9 C847.4 752.3 849.0 752.5 851.8 753.9 C854.6 755.3 858.7 758.5 861.6 760.1 C864.5 761.7 865.8 763.0 869.4 763.5 C873.0 764.0 878.5 763.5 883.1 763.1 C887.7 762.7 891.9 761.2 896.8 761.1 C901.7 761.0 908.2 761.6 912.5 762.7 C916.8 763.9 919.4 766.4 922.3 768.0 C925.2 769.6 927.8 771.4 930.1 772.5 C932.4 773.6 933.7 773.0 936.0 774.4 C938.3 775.8 940.2 778.7 943.8 780.7 C947.4 782.7 954.0 785.4 957.6 786.2 C961.2 787.0 962.5 785.0 965.5 785.4 C968.5 785.8 972.4 787.1 975.7 788.5 C979.0 789.9 982.2 792.4 985.5 793.8 C988.8 795.2 991.7 797.0 995.3 797.0 C998.9 797.0 1002.4 795.1 1007.0 794.0 C1011.6 792.9 1018.5 791.6 1022.7 790.5 C1027.0 789.4 1028.9 787.5 1032.5 787.2 C1036.1 786.9 1040.0 788.8 1044.2 788.9 C1048.5 789.0 1053.8 788.1 1058.0 787.6 C1062.2 787.1 1066.4 786.4 1069.7 785.6 C1073.0 784.8 1074.9 783.9 1077.6 782.7 C1080.3 781.5 1082.7 779.2 1086.0 778.2 C1089.3 777.2 1094.3 776.9 1097.6 776.4 C1100.8 775.9 1102.9 775.0 1105.5 775.2 C1108.1 775.4 1110.0 776.8 1113.3 777.8 C1116.6 778.8 1121.5 780.2 1125.1 781.3 C1128.7 782.4 1132.0 784.0 1134.9 784.2 C1137.8 784.4 1139.4 782.1 1142.7 782.3 C1146.0 782.5 1150.6 784.7 1154.5 785.6 C1158.4 786.5 1163.3 787.0 1166.2 787.6 C1169.1 788.2 1169.8 787.9 1172.1 789.1 C1174.4 790.3 1177.0 793.5 1179.9 794.8 C1182.8 796.1 1186.8 796.1 1189.7 797.0 C1192.7 797.9 1195.0 799.1 1197.6 799.9 C1200.1 800.7 1202.6 801.2 1205.0 801.7 C1207.4 802.2 1208.7 802.4 1211.8 802.8 C1214.9 803.2 1219.6 803.5 1223.5 804.2 C1227.4 804.9 1231.7 806.2 1235.3 807.1 C1238.9 808.0 1241.2 808.8 1245.1 809.5 C1249.0 810.2 1253.9 811.0 1258.8 811.1 C1263.7 811.2 1269.3 810.1 1274.5 810.1 C1279.7 810.1 1284.9 811.3 1290.1 811.1 C1295.3 810.9 1300.0 809.3 1305.8 809.1 C1311.6 808.9 1320.0 809.8 1325.0 810.1 C1330.0 810.4 1332.3 811.2 1335.7 811.1 C1339.1 811.0 1340.3 809.8 1345.5 809.5 C1350.7 809.2 1361.1 808.8 1367.0 809.1 C1372.9 809.4 1377.1 811.0 1380.7 811.1 C1384.3 811.2 1385.6 810.1 1388.6 809.5 C1391.5 808.9 1395.5 808.1 1398.4 807.7 C1401.3 807.3 1403.6 807.7 1406.2 807.1 C1408.8 806.5 1411.4 805.0 1414.0 804.2 C1416.6 803.4 1418.6 803.4 1421.9 802.2 C1425.2 801.0 1429.6 797.7 1433.6 797.0 C1437.6 796.3 1441.7 797.1 1446.0 797.8 C1450.3 798.5 1455.4 800.4 1459.6 801.0 C1463.8 801.6 1467.8 801.6 1471.4 801.4 C1475.0 801.2 1477.9 800.0 1481.2 799.8 C1484.5 799.6 1488.1 800.2 1491.0 800.0 C1493.9 799.8 1496.2 798.7 1498.8 798.4 C1501.4 798.1 1504.1 798.1 1506.7 798.4 C1509.3 798.7 1511.6 799.7 1514.5 800.0 C1517.4 800.3 1520.4 799.9 1524.3 800.4 C1528.2 800.9 1534.4 802.5 1538.0 802.9 C1541.6 803.3 1542.6 802.7 1545.9 802.9 C1549.2 803.1 1554.3 803.7 1557.6 804.3 C1560.9 804.9 1562.9 806.3 1565.5 806.7 C1568.1 807.1 1570.7 806.1 1573.3 806.7 C1575.9 807.3 1578.7 809.5 1581.2 810.2 C1583.7 811.0 1587.2 811.0 1588.4 811.2 " fill="none" stroke="rgba(0,0,0,0.42)" stroke-width="2.1" stroke-linejoin="round" stroke-linecap="round" clip-path="url(#volclip)" shape-rendering="geometricPrecision"/>
<rect x="729" y="333" width="1063" height="2" fill="#000"/>
<rect x="1061" y="353" width="731" height="1" fill="#000"/>
<line x1="1" y1="362.5" x2="1792" y2="362.5" stroke="#5263c2" stroke-width="1" stroke-dasharray="2,1"/>
<g clip-path="url(#priceclip)">
<rect x="246" y="649.0" width="1" height="31.0" fill="#2f3a36"/>
<rect x="244.5" y="649.5" width="4" height="30.0" fill="#17bd76" stroke="#0d6137" stroke-width="1"/>
<rect x="254" y="623.0" width="1" height="57.0" fill="#2f3a36"/>
<rect x="252.5" y="648.5" width="4" height="4.5" fill="#17bd76" stroke="#0d6137" stroke-width="1"/>
<rect x="261" y="649.4" width="1" height="30.6" fill="#2f3a36"/>
<rect x="259.5" y="649.9" width="4" height="29.6" fill="#f2665d" stroke="#63130f" stroke-width="1"/>
<rect x="269" y="646.0" width="1" height="44.0" fill="#2f3a36"/>
<rect x="267.5" y="668.5" width="4" height="21.0" fill="#f2665d" stroke="#63130f" stroke-width="1"/>
<rect x="276" y="653.0" width="1" height="37.0" fill="#2f3a36"/>
<rect x="274.5" y="668.5" width="4" height="21.0" fill="#17bd76" stroke="#0d6137" stroke-width="1"/>
<rect x="284" y="625.0" width="1" height="55.0" fill="#2f3a36"/>
<rect x="282.5" y="634.8" width="4" height="44.7" fill="#17bd76" stroke="#0d6137" stroke-width="1"/>
<rect x="291" y="625.0" width="1" height="22.6" fill="#2f3a36"/>
<rect x="289.5" y="636.5" width="4" height="2.0" fill="#f2665d" stroke="#63130f" stroke-width="1"/>
<rect x="298" y="516.2" width="1" height="120.3" fill="#2f3a36"/>
<rect x="296.5" y="542.9" width="4" height="93.1" fill="#17bd76" stroke="#0d6137" stroke-width="1"/>
<rect x="306" y="527.3" width="1" height="61.3" fill="#2f3a36"/>
<rect x="304.5" y="542.9" width="4" height="35.0" fill="#f2665d" stroke="#63130f" stroke-width="1"/>
<rect x="313" y="537.5" width="1" height="38.7" fill="#2f3a36"/>
<rect x="311.5" y="563.8" width="4" height="11.9" fill="#17bd76" stroke="#0d6137" stroke-width="1"/>
<rect x="321" y="557.2" width="1" height="22.5" fill="#2f3a36"/>
<rect x="319.5" y="567.8" width="4" height="6.4" fill="#f2665d" stroke="#63130f" stroke-width="1"/>
<rect x="328" y="529.2" width="1" height="42.4" fill="#2f3a36"/>
<rect x="326.5" y="538.0" width="4" height="33.1" fill="#17bd76" stroke="#0d6137" stroke-width="1"/>
<rect x="335" y="527.0" width="1" height="26.8" fill="#2f3a36"/>
<rect x="333.5" y="537.8" width="4" height="2.0" fill="#f2665d" stroke="#63130f" stroke-width="1"/>
<rect x="343" y="508.1" width="1" height="33.3" fill="#2f3a36"/>
<rect x="341" y="540.0" width="5" height="1" fill="#2f3a36"/>
<rect x="350" y="520.0" width="1" height="61.6" fill="#2f3a36"/>
<rect x="348.5" y="537.7" width="4" height="2.0" fill="#f2665d" stroke="#63130f" stroke-width="1"/>
<rect x="358" y="535.2" width="1" height="19.5" fill="#2f3a36"/>
<rect x="356.5" y="535.7" width="4" height="10.4" fill="#f2665d" stroke="#63130f" stroke-width="1"/>
<rect x="365" y="520.5" width="1" height="65.1" fill="#2f3a36"/>
<rect x="363.5" y="522.6" width="4" height="21.6" fill="#f2665d" stroke="#63130f" stroke-width="1"/>
<rect x="372" y="537.2" width="1" height="19.4" fill="#2f3a36"/>
<rect x="370.5" y="550.7" width="4" height="2.0" fill="#f2665d" stroke="#63130f" stroke-width="1"/>
<rect x="380" y="548.4" width="1" height="18.4" fill="#2f3a36"/>
<rect x="378.5" y="550.7" width="4" height="10.5" fill="#f2665d" stroke="#63130f" stroke-width="1"/>
<rect x="387" y="559.4" width="1" height="29.3" fill="#2f3a36"/>
<rect x="385.5" y="561.6" width="4" height="22.4" fill="#f2665d" stroke="#63130f" stroke-width="1"/>
<rect x="395" y="578.2" width="1" height="14.3" fill="#2f3a36"/>
<rect x="393.5" y="578.7" width="4" height="5.3" fill="#17bd76" stroke="#0d6137" stroke-width="1"/>
<rect x="402" y="557.3" width="1" height="25.1" fill="#2f3a36"/>
<rect x="400.5" y="565.8" width="4" height="16.1" fill="#17bd76" stroke="#0d6137" stroke-width="1"/>
<rect x="409" y="554.5" width="1" height="34.2" fill="#2f3a36"/>
<rect x="407.5" y="557.8" width="4" height="22.4" fill="#f2665d" stroke="#63130f" stroke-width="1"/>
<rect x="417" y="563.4" width="1" height="18.2" fill="#2f3a36"/>
<rect x="415.5" y="563.9" width="4" height="10.2" fill="#17bd76" stroke="#0d6137" stroke-width="1"/>
<rect x="424" y="522.4" width="1" height="43.1" fill="#2f3a36"/>
<rect x="422.5" y="525.8" width="4" height="39.2" fill="#17bd76" stroke="#0d6137" stroke-width="1"/>
<rect x="432" y="422.3" width="1" height="78.0" fill="#2f3a36"/>
<rect x="430.5" y="445.7" width="4" height="54.1" fill="#17bd76" stroke="#0d6137" stroke-width="1"/>
<rect x="439" y="420.2" width="1" height="56.5" fill="#2f3a36"/>
<rect x="437.5" y="424.9" width="4" height="27.3" fill="#17bd76" stroke="#0d6137" stroke-width="1"/>
<rect x="446" y="416.0" width="1" height="29.9" fill="#2f3a36"/>
<rect x="444.5" y="422.9" width="4" height="7.1" fill="#f2665d" stroke="#63130f" stroke-width="1"/>
<rect x="454" y="424.4" width="1" height="21.5" fill="#2f3a36"/>
<rect x="452.5" y="424.9" width="4" height="5.1" fill="#17bd76" stroke="#0d6137" stroke-width="1"/>
<rect x="461" y="416.0" width="1" height="22.7" fill="#2f3a36"/>
<rect x="459" y="430.0" width="5" height="1" fill="#2f3a36"/>
<rect x="469" y="403.2" width="1" height="25.2" fill="#2f3a36"/>
<rect x="467.5" y="414.8" width="4" height="13.1" fill="#17bd76" stroke="#0d6137" stroke-width="1"/>
<rect x="476" y="392.3" width="1" height="28.2" fill="#2f3a36"/>
<rect x="474.5" y="413.8" width="4" height="6.2" fill="#f2665d" stroke="#63130f" stroke-width="1"/>
<rect x="484" y="403.2" width="1" height="20.3" fill="#2f3a36"/>
<rect x="482.5" y="414.8" width="4" height="3.2" fill="#f2665d" stroke="#63130f" stroke-width="1"/>
<rect x="491" y="399.2" width="1" height="22.3" fill="#2f3a36"/>
<rect x="489" y="415.8" width="5" height="1" fill="#2f3a36"/>
<rect x="498" y="373.2" width="1" height="111.3" fill="#2f3a36"/>
<rect x="496.5" y="386.7" width="4" height="97.3" fill="#17bd76" stroke="#0d6137" stroke-width="1"/>
<rect x="506" y="381.0" width="1" height="57.7" fill="#2f3a36"/>
<rect x="504.5" y="384.5" width="4" height="5.7" fill="#f2665d" stroke="#63130f" stroke-width="1"/>
<rect x="513" y="379.2" width="1" height="38.5" fill="#2f3a36"/>
<rect x="511.5" y="394.7" width="4" height="14.3" fill="#f2665d" stroke="#63130f" stroke-width="1"/>
<rect x="521" y="403.5" width="1" height="26.2" fill="#2f3a36"/>
<rect x="519.5" y="405.5" width="4" height="8.7" fill="#f2665d" stroke="#63130f" stroke-width="1"/>
<rect x="528" y="375.0" width="1" height="36.6" fill="#2f3a36"/>
<rect x="526.5" y="383.8" width="4" height="27.2" fill="#17bd76" stroke="#0d6137" stroke-width="1"/>
<rect x="535" y="371.3" width="1" height="27.3" fill="#2f3a36"/>
<rect x="533.5" y="381.8" width="4" height="14.4" fill="#f2665d" stroke="#63130f" stroke-width="1"/>
<rect x="543" y="369.2" width="1" height="25.1" fill="#2f3a36"/>
<rect x="541" y="393.8" width="5" height="1" fill="#2f3a36"/>
<rect x="550" y="379.1" width="1" height="27.6" fill="#2f3a36"/>
<rect x="548.5" y="392.5" width="4" height="5.6" fill="#f2665d" stroke="#63130f" stroke-width="1"/>
<rect x="558" y="384.3" width="1" height="16.4" fill="#2f3a36"/>
<rect x="556.5" y="390.5" width="4" height="3.6" fill="#17bd76" stroke="#0d6137" stroke-width="1"/>
<rect x="565" y="390.0" width="1" height="22.4" fill="#2f3a36"/>
<rect x="563.5" y="390.5" width="4" height="18.3" fill="#f2665d" stroke="#63130f" stroke-width="1"/>
<rect x="572" y="405.0" width="1" height="27.2" fill="#2f3a36"/>
<rect x="570.5" y="411.6" width="4" height="19.4" fill="#f2665d" stroke="#63130f" stroke-width="1"/>
<rect x="580" y="371.3" width="1" height="55.3" fill="#2f3a36"/>
<rect x="578.5" y="381.6" width="4" height="44.5" fill="#17bd76" stroke="#0d6137" stroke-width="1"/>
<rect x="587" y="334.1" width="1" height="50.5" fill="#2f3a36"/>
<rect x="585.5" y="343.8" width="4" height="40.3" fill="#17bd76" stroke="#0d6137" stroke-width="1"/>
<rect x="595" y="345.3" width="1" height="27.4" fill="#2f3a36"/>
<rect x="593.5" y="345.8" width="4" height="8.2" fill="#f2665d" stroke="#63130f" stroke-width="1"/>
<rect x="602" y="324.2" width="1" height="35.5" fill="#2f3a36"/>
<rect x="600.5" y="334.6" width="4" height="19.4" fill="#17bd76" stroke="#0d6137" stroke-width="1"/>
<rect x="609" y="309.0" width="1" height="31.5" fill="#2f3a36"/>
<rect x="607.5" y="317.5" width="4" height="16.6" fill="#17bd76" stroke="#0d6137" stroke-width="1"/>
<rect x="617" y="315.4" width="1" height="42.4" fill="#2f3a36"/>
<rect x="615.5" y="315.9" width="4" height="16.0" fill="#f2665d" stroke="#63130f" stroke-width="1"/>
<rect x="624" y="330.1" width="1" height="12.6" fill="#2f3a36"/>
<rect x="622.5" y="335.1" width="4" height="3.7" fill="#17bd76" stroke="#0d6137" stroke-width="1"/>
<rect x="632" y="309.0" width="1" height="30.6" fill="#2f3a36"/>
<rect x="630.5" y="317.7" width="4" height="21.4" fill="#17bd76" stroke="#0d6137" stroke-width="1"/>
<rect x="639" y="289.3" width="1" height="24.1" fill="#2f3a36"/>
<rect x="637.5" y="292.6" width="4" height="20.3" fill="#17bd76" stroke="#0d6137" stroke-width="1"/>
<rect x="646" y="292.1" width="1" height="31.1" fill="#2f3a36"/>
<rect x="644.5" y="292.6" width="4" height="12.6" fill="#f2665d" stroke="#63130f" stroke-width="1"/>
<rect x="654" y="296.3" width="1" height="20.4" fill="#2f3a36"/>
<rect x="652.5" y="302.5" width="4" height="2.7" fill="#17bd76" stroke="#0d6137" stroke-width="1"/>
<rect x="661" y="270.2" width="1" height="28.3" fill="#2f3a36"/>
<rect x="659.5" y="272.7" width="4" height="25.3" fill="#17bd76" stroke="#0d6137" stroke-width="1"/>
<rect x="669" y="237.8" width="1" height="35.0" fill="#2f3a36"/>
<rect x="667.5" y="251.4" width="4" height="20.9" fill="#17bd76" stroke="#0d6137" stroke-width="1"/>
<rect x="676" y="242.2" width="1" height="36.6" fill="#2f3a36"/>
<rect x="674.5" y="255.8" width="4" height="12.2" fill="#f2665d" stroke="#63130f" stroke-width="1"/>
<rect x="684" y="230.1" width="1" height="36.6" fill="#2f3a36"/>
<rect x="682.5" y="249.7" width="4" height="16.5" fill="#17bd76" stroke="#0d6137" stroke-width="1"/>
<rect x="691" y="227.9" width="1" height="25.9" fill="#2f3a36"/>
<rect x="689.5" y="240.7" width="4" height="12.6" fill="#17bd76" stroke="#0d6137" stroke-width="1"/>
<rect x="698" y="174.2" width="1" height="51.1" fill="#2f3a36"/>
<rect x="696.5" y="208.7" width="4" height="14.8" fill="#17bd76" stroke="#0d6137" stroke-width="1"/>
<rect x="706" y="196.2" width="1" height="54.3" fill="#2f3a36"/>
<rect x="704.5" y="206.5" width="4" height="10.6" fill="#f2665d" stroke="#63130f" stroke-width="1"/>
<rect x="713" y="206.0" width="1" height="74.5" fill="#2f3a36"/>
<rect x="711.5" y="217.9" width="4" height="36.9" fill="#f2665d" stroke="#63130f" stroke-width="1"/>
<rect x="721" y="255.3" width="1" height="83.3" fill="#2f3a36"/>
<rect x="719.5" y="255.8" width="4" height="48.3" fill="#f2665d" stroke="#63130f" stroke-width="1"/>
<rect x="728" y="302.3" width="1" height="36.0" fill="#2f3a36"/>
<rect x="726.5" y="302.8" width="4" height="31.2" fill="#f2665d" stroke="#63130f" stroke-width="1"/>
<rect x="735" y="281.1" width="1" height="51.2" fill="#2f3a36"/>
<rect x="733.5" y="317.6" width="4" height="14.2" fill="#17bd76" stroke="#0d6137" stroke-width="1"/>
<rect x="743" y="287.3" width="1" height="47.5" fill="#2f3a36"/>
<rect x="741.5" y="309.8" width="4" height="10.0" fill="#17bd76" stroke="#0d6137" stroke-width="1"/>
<rect x="750" y="317.1" width="1" height="17.7" fill="#2f3a36"/>
<rect x="748.5" y="319.3" width="4" height="4.4" fill="#f2665d" stroke="#63130f" stroke-width="1"/>
<rect x="758" y="302.2" width="1" height="19.8" fill="#2f3a36"/>
<rect x="756.5" y="317.6" width="4" height="3.9" fill="#17bd76" stroke="#0d6137" stroke-width="1"/>
<rect x="765" y="266.0" width="1" height="50.7" fill="#2f3a36"/>
<rect x="763.5" y="285.7" width="4" height="20.9" fill="#f2665d" stroke="#63130f" stroke-width="1"/>
<rect x="772" y="226.5" width="1" height="85.3" fill="#2f3a36"/>
<rect x="770.5" y="233.0" width="4" height="78.3" fill="#17bd76" stroke="#0d6137" stroke-width="1"/>
<rect x="780" y="181.3" width="1" height="59.7" fill="#2f3a36"/>
<rect x="778.5" y="195.7" width="4" height="38.4" fill="#17bd76" stroke="#0d6137" stroke-width="1"/>
<rect x="787" y="193.6" width="1" height="27.1" fill="#2f3a36"/>
<rect x="785.5" y="194.1" width="4" height="2.0" fill="#17bd76" stroke="#0d6137" stroke-width="1"/>
<rect x="795" y="157.1" width="1" height="44.9" fill="#2f3a36"/>
<rect x="793.5" y="168.8" width="4" height="27.3" fill="#17bd76" stroke="#0d6137" stroke-width="1"/>
<rect x="802" y="130.8" width="1" height="42.8" fill="#2f3a36"/>
<rect x="800.5" y="140.7" width="4" height="25.8" fill="#17bd76" stroke="#0d6137" stroke-width="1"/>
<rect x="809" y="114.3" width="1" height="44.6" fill="#2f3a36"/>
<rect x="807.5" y="140.7" width="4" height="3.4" fill="#f2665d" stroke="#63130f" stroke-width="1"/>
<rect x="817" y="117.0" width="1" height="45.6" fill="#2f3a36"/>
<rect x="815.5" y="139.0" width="4" height="7.3" fill="#17bd76" stroke="#0d6137" stroke-width="1"/>
<rect x="824" y="140.2" width="1" height="20.6" fill="#2f3a36"/>
<rect x="822.5" y="140.7" width="4" height="8.2" fill="#f2665d" stroke="#63130f" stroke-width="1"/>
<rect x="832" y="74.2" width="1" height="83.3" fill="#2f3a36"/>
<rect x="830.5" y="151.7" width="4" height="5.3" fill="#17bd76" stroke="#0d6137" stroke-width="1"/>
<rect x="839" y="130.8" width="1" height="94.9" fill="#2f3a36"/>
<rect x="837.5" y="151.7" width="4" height="58.2" fill="#f2665d" stroke="#63130f" stroke-width="1"/>
<rect x="846" y="189.3" width="1" height="58.8" fill="#2f3a36"/>
<rect x="844.5" y="210.9" width="4" height="34.5" fill="#f2665d" stroke="#63130f" stroke-width="1"/>
<rect x="854" y="181.2" width="1" height="64.7" fill="#2f3a36"/>
<rect x="852.5" y="217.5" width="4" height="27.9" fill="#17bd76" stroke="#0d6137" stroke-width="1"/>
<rect x="861" y="187.1" width="1" height="28.1" fill="#2f3a36"/>
<rect x="859.5" y="196.6" width="4" height="13.7" fill="#17bd76" stroke="#0d6137" stroke-width="1"/>
<rect x="869" y="189.3" width="1" height="27.5" fill="#2f3a36"/>
<rect x="867.5" y="196.0" width="4" height="6.2" fill="#f2665d" stroke="#63130f" stroke-width="1"/>
<rect x="876" y="185.2" width="1" height="25.6" fill="#2f3a36"/>
<rect x="874.5" y="185.7" width="4" height="16.5" fill="#17bd76" stroke="#0d6137" stroke-width="1"/>
<rect x="884" y="164.5" width="1" height="32.1" fill="#2f3a36"/>
<rect x="882.5" y="183.9" width="4" height="12.2" fill="#f2665d" stroke="#63130f" stroke-width="1"/>
<rect x="891" y="191.5" width="1" height="18.2" fill="#2f3a36"/>
<rect x="889.5" y="195.9" width="4" height="8.0" fill="#f2665d" stroke="#63130f" stroke-width="1"/>
<rect x="898" y="129.3" width="1" height="73.2" fill="#2f3a36"/>
<rect x="896.5" y="179.7" width="4" height="22.3" fill="#17bd76" stroke="#0d6137" stroke-width="1"/>
<rect x="906" y="172.2" width="1" height="46.5" fill="#2f3a36"/>
<rect x="904.5" y="172.7" width="4" height="20.3" fill="#f2665d" stroke="#63130f" stroke-width="1"/>
<rect x="913" y="164.2" width="1" height="35.3" fill="#2f3a36"/>
<rect x="911.5" y="168.8" width="4" height="22.4" fill="#17bd76" stroke="#0d6137" stroke-width="1"/>
<rect x="921" y="166.2" width="1" height="24.3" fill="#2f3a36"/>
<rect x="919.5" y="170.7" width="4" height="8.3" fill="#f2665d" stroke="#63130f" stroke-width="1"/>
<rect x="928" y="170.2" width="1" height="14.3" fill="#2f3a36"/>
<rect x="926.5" y="176.7" width="4" height="2.3" fill="#17bd76" stroke="#0d6137" stroke-width="1"/>
<rect x="935" y="170.2" width="1" height="25.2" fill="#2f3a36"/>
<rect x="933.5" y="178.7" width="4" height="12.3" fill="#f2665d" stroke="#63130f" stroke-width="1"/>
<rect x="943" y="174.3" width="1" height="21.1" fill="#2f3a36"/>
<rect x="941.5" y="174.8" width="4" height="18.2" fill="#17bd76" stroke="#0d6137" stroke-width="1"/>
<rect x="950" y="159.3" width="1" height="17.2" fill="#2f3a36"/>
<rect x="948" y="176.0" width="5" height="1" fill="#2f3a36"/>
<rect x="958" y="172.2" width="1" height="12.3" fill="#2f3a36"/>
<rect x="956.5" y="172.7" width="4" height="5.3" fill="#17bd76" stroke="#0d6137" stroke-width="1"/>
<rect x="965" y="172.2" width="1" height="67.3" fill="#2f3a36"/>
<rect x="963.5" y="172.7" width="4" height="44.3" fill="#f2665d" stroke="#63130f" stroke-width="1"/>
<rect x="972" y="195.3" width="1" height="38.2" fill="#2f3a36"/>
<rect x="970.5" y="195.8" width="4" height="21.2" fill="#17bd76" stroke="#0d6137" stroke-width="1"/>
<rect x="980" y="195.4" width="1" height="46.3" fill="#2f3a36"/>
<rect x="978.5" y="195.9" width="4" height="17.2" fill="#f2665d" stroke="#63130f" stroke-width="1"/>
<rect x="987" y="204.2" width="1" height="37.5" fill="#2f3a36"/>
<rect x="985.5" y="204.7" width="4" height="8.4" fill="#17bd76" stroke="#0d6137" stroke-width="1"/>
<rect x="995" y="210.2" width="1" height="25.6" fill="#2f3a36"/>
<rect x="993.5" y="210.7" width="4" height="21.5" fill="#f2665d" stroke="#63130f" stroke-width="1"/>
<rect x="1002" y="230.6" width="1" height="31.3" fill="#2f3a36"/>
<rect x="1000.5" y="232.7" width="4" height="14.4" fill="#f2665d" stroke="#63130f" stroke-width="1"/>
<rect x="1009" y="232.2" width="1" height="41.5" fill="#2f3a36"/>
<rect x="1007.5" y="247.9" width="4" height="25.3" fill="#f2665d" stroke="#63130f" stroke-width="1"/>
<rect x="1017" y="270.5" width="1" height="40.4" fill="#2f3a36"/>
<rect x="1015.5" y="272.9" width="4" height="27.3" fill="#f2665d" stroke="#63130f" stroke-width="1"/>
<rect x="1024" y="296.0" width="1" height="10.9" fill="#2f3a36"/>
<rect x="1022" y="301.8" width="5" height="1" fill="#2f3a36"/>
<rect x="1032" y="317.3" width="1" height="74.4" fill="#2f3a36"/>
<rect x="1030.5" y="332.6" width="4" height="10.6" fill="#17bd76" stroke="#0d6137" stroke-width="1"/>
<rect x="1039" y="334.2" width="1" height="49.3" fill="#2f3a36"/>
<rect x="1037.5" y="334.7" width="4" height="26.7" fill="#f2665d" stroke="#63130f" stroke-width="1"/>
<rect x="1046" y="354.1" width="1" height="33.4" fill="#2f3a36"/>
<rect x="1044.5" y="365.0" width="4" height="18.0" fill="#f2665d" stroke="#63130f" stroke-width="1"/>
<rect x="1054" y="373.1" width="1" height="37.6" fill="#2f3a36"/>
<rect x="1052.5" y="378.0" width="4" height="5.0" fill="#17bd76" stroke="#0d6137" stroke-width="1"/>
<rect x="1061" y="356.4" width="1" height="29.2" fill="#2f3a36"/>
<rect x="1059.5" y="356.9" width="4" height="20.1" fill="#17bd76" stroke="#0d6137" stroke-width="1"/>
<rect x="1069" y="326.1" width="1" height="42.7" fill="#2f3a36"/>
<rect x="1067.5" y="352.9" width="4" height="2.0" fill="#17bd76" stroke="#0d6137" stroke-width="1"/>
<rect x="1076" y="349.4" width="1" height="27.2" fill="#2f3a36"/>
<rect x="1074.5" y="351.7" width="4" height="4.2" fill="#f2665d" stroke="#63130f" stroke-width="1"/>
<rect x="1084" y="351.2" width="1" height="65.5" fill="#2f3a36"/>
<rect x="1082.5" y="358.9" width="4" height="57.3" fill="#f2665d" stroke="#63130f" stroke-width="1"/>
<rect x="1091" y="403.4" width="1" height="17.0" fill="#2f3a36"/>
<rect x="1089.5" y="414.8" width="4" height="5.1" fill="#f2665d" stroke="#63130f" stroke-width="1"/>
<rect x="1098" y="375.4" width="1" height="69.9" fill="#2f3a36"/>
<rect x="1096.5" y="375.9" width="4" height="68.9" fill="#f2665d" stroke="#63130f" stroke-width="1"/>
<rect x="1106" y="392.5" width="1" height="59.0" fill="#2f3a36"/>
<rect x="1104.5" y="401.7" width="4" height="39.3" fill="#17bd76" stroke="#0d6137" stroke-width="1"/>
<rect x="1113" y="388.2" width="1" height="41.5" fill="#2f3a36"/>
<rect x="1111.5" y="399.9" width="4" height="14.3" fill="#f2665d" stroke="#63130f" stroke-width="1"/>
<rect x="1121" y="413.3" width="1" height="21.6" fill="#2f3a36"/>
<rect x="1119.5" y="413.8" width="4" height="16.2" fill="#f2665d" stroke="#63130f" stroke-width="1"/>
<rect x="1128" y="422.1" width="1" height="11.5" fill="#2f3a36"/>
<rect x="1126.5" y="430.7" width="4" height="2.4" fill="#f2665d" stroke="#63130f" stroke-width="1"/>
<rect x="1135" y="409.3" width="1" height="25.1" fill="#2f3a36"/>
<rect x="1133.5" y="413.8" width="4" height="19.3" fill="#17bd76" stroke="#0d6137" stroke-width="1"/>
<rect x="1143" y="401.2" width="1" height="33.7" fill="#2f3a36"/>
<rect x="1141.5" y="401.7" width="4" height="11.4" fill="#17bd76" stroke="#0d6137" stroke-width="1"/>
<rect x="1150" y="398.0" width="1" height="22.7" fill="#2f3a36"/>
<rect x="1148.5" y="401.7" width="4" height="18.5" fill="#f2665d" stroke="#63130f" stroke-width="1"/>
<rect x="1158" y="418.1" width="1" height="28.7" fill="#2f3a36"/>
<rect x="1156.5" y="422.7" width="4" height="23.6" fill="#f2665d" stroke="#63130f" stroke-width="1"/>
<rect x="1165" y="399.4" width="1" height="30.3" fill="#2f3a36"/>
<rect x="1163.5" y="399.9" width="4" height="24.3" fill="#17bd76" stroke="#0d6137" stroke-width="1"/>
<rect x="1172" y="396.2" width="1" height="26.4" fill="#2f3a36"/>
<rect x="1170.5" y="398.7" width="4" height="23.4" fill="#f2665d" stroke="#63130f" stroke-width="1"/>
<rect x="1180" y="392.0" width="1" height="30.6" fill="#2f3a36"/>
<rect x="1178.5" y="409.8" width="4" height="12.3" fill="#17bd76" stroke="#0d6137" stroke-width="1"/>
<rect x="1187" y="409.3" width="1" height="15.2" fill="#2f3a36"/>
<rect x="1185.5" y="409.8" width="4" height="14.2" fill="#f2665d" stroke="#63130f" stroke-width="1"/>
<rect x="1195" y="409.2" width="1" height="16.4" fill="#2f3a36"/>
<rect x="1193.5" y="420.6" width="4" height="3.7" fill="#17bd76" stroke="#0d6137" stroke-width="1"/>
<rect x="1202" y="413.1" width="1" height="11.5" fill="#2f3a36"/>
<rect x="1200.5" y="419.0" width="4" height="5.1" fill="#17bd76" stroke="#0d6137" stroke-width="1"/>
<rect x="1209" y="407.1" width="1" height="12.6" fill="#2f3a36"/>
<rect x="1207.5" y="411.7" width="4" height="2.5" fill="#17bd76" stroke="#0d6137" stroke-width="1"/>
<rect x="1217" y="414.3" width="1" height="32.3" fill="#2f3a36"/>
<rect x="1215.5" y="414.8" width="4" height="31.3" fill="#f2665d" stroke="#63130f" stroke-width="1"/>
<rect x="1224" y="437.1" width="1" height="14.6" fill="#2f3a36"/>
<rect x="1222.5" y="446.9" width="4" height="2.0" fill="#f2665d" stroke="#63130f" stroke-width="1"/>
<rect x="1232" y="420.1" width="1" height="34.5" fill="#2f3a36"/>
<rect x="1230.5" y="452.9" width="4" height="2.0" fill="#17bd76" stroke="#0d6137" stroke-width="1"/>
<rect x="1239" y="403.2" width="1" height="47.3" fill="#2f3a36"/>
<rect x="1237.5" y="403.7" width="4" height="46.3" fill="#17bd76" stroke="#0d6137" stroke-width="1"/>
<rect x="1246" y="403.2" width="1" height="54.6" fill="#2f3a36"/>
<rect x="1244.5" y="403.7" width="4" height="46.3" fill="#f2665d" stroke="#63130f" stroke-width="1"/>
<rect x="1254" y="446.1" width="1" height="11.5" fill="#2f3a36"/>
<rect x="1252.5" y="453.0" width="4" height="2.0" fill="#f2665d" stroke="#63130f" stroke-width="1"/>
<rect x="1261" y="452.4" width="1" height="12.4" fill="#2f3a36"/>
<rect x="1259.5" y="454.8" width="4" height="6.3" fill="#f2665d" stroke="#63130f" stroke-width="1"/>
<rect x="1269" y="461.2" width="1" height="25.6" fill="#2f3a36"/>
<rect x="1267.5" y="461.7" width="4" height="24.6" fill="#f2665d" stroke="#63130f" stroke-width="1"/>
<rect x="1276" y="475.2" width="1" height="21.3" fill="#2f3a36"/>
<rect x="1274.5" y="486.6" width="4" height="2.0" fill="#f2665d" stroke="#63130f" stroke-width="1"/>
<rect x="1284" y="480.3" width="1" height="12.4" fill="#2f3a36"/>
<rect x="1282" y="485.9" width="5" height="1" fill="#2f3a36"/>
<rect x="1291" y="478.3" width="1" height="5.3" fill="#2f3a36"/>
<rect x="1289.5" y="480.9" width="4" height="2.0" fill="#f2665d" stroke="#63130f" stroke-width="1"/>
<rect x="1298" y="486.4" width="1" height="27.3" fill="#2f3a36"/>
<rect x="1296.5" y="486.9" width="4" height="14.2" fill="#f2665d" stroke="#63130f" stroke-width="1"/>
<rect x="1306" y="446.2" width="1" height="67.5" fill="#2f3a36"/>
<rect x="1304.5" y="452.8" width="4" height="55.2" fill="#17bd76" stroke="#0d6137" stroke-width="1"/>
<rect x="1313" y="435.2" width="1" height="37.5" fill="#2f3a36"/>
<rect x="1311.5" y="454.8" width="4" height="6.3" fill="#f2665d" stroke="#63130f" stroke-width="1"/>
<rect x="1321" y="458.0" width="1" height="7.5" fill="#2f3a36"/>
<rect x="1319.5" y="463.9" width="4" height="2.0" fill="#f2665d" stroke="#63130f" stroke-width="1"/>
<rect x="1328" y="452.2" width="1" height="17.3" fill="#2f3a36"/>
<rect x="1326.5" y="463.9" width="4" height="5.1" fill="#f2665d" stroke="#63130f" stroke-width="1"/>
<rect x="1335" y="467.3" width="1" height="10.3" fill="#2f3a36"/>
<rect x="1333" y="466.8" width="5" height="1" fill="#2f3a36"/>
<rect x="1343" y="469.5" width="1" height="18.1" fill="#2f3a36"/>
<rect x="1341.5" y="470.0" width="4" height="5.0" fill="#f2665d" stroke="#63130f" stroke-width="1"/>
<rect x="1350" y="461.0" width="1" height="14.8" fill="#2f3a36"/>
<rect x="1348.5" y="474.0" width="4" height="2.0" fill="#17bd76" stroke="#0d6137" stroke-width="1"/>
<rect x="1358" y="465.0" width="1" height="9.0" fill="#2f3a36"/>
<rect x="1356.5" y="471.8" width="4" height="2.0" fill="#17bd76" stroke="#0d6137" stroke-width="1"/>
<rect x="1365" y="424.1" width="1" height="43.3" fill="#2f3a36"/>
<rect x="1363.5" y="439.7" width="4" height="27.2" fill="#17bd76" stroke="#0d6137" stroke-width="1"/>
<rect x="1372" y="443.2" width="1" height="25.4" fill="#2f3a36"/>
<rect x="1370.5" y="443.7" width="4" height="14.4" fill="#f2665d" stroke="#63130f" stroke-width="1"/>
<rect x="1380" y="460.4" width="1" height="16.3" fill="#2f3a36"/>
<rect x="1378.5" y="460.9" width="4" height="2.3" fill="#f2665d" stroke="#63130f" stroke-width="1"/>
<rect x="1387" y="437.2" width="1" height="27.2" fill="#2f3a36"/>
<rect x="1385.5" y="446.6" width="4" height="14.3" fill="#17bd76" stroke="#0d6137" stroke-width="1"/>
<rect x="1395" y="401.2" width="1" height="40.4" fill="#2f3a36"/>
<rect x="1393.5" y="428.7" width="4" height="12.4" fill="#17bd76" stroke="#0d6137" stroke-width="1"/>
<rect x="1402" y="418.3" width="1" height="11.2" fill="#2f3a36"/>
<rect x="1400.5" y="418.8" width="4" height="9.5" fill="#17bd76" stroke="#0d6137" stroke-width="1"/>
<rect x="1409" y="399.2" width="1" height="30.8" fill="#2f3a36"/>
<rect x="1407.5" y="407.7" width="4" height="14.3" fill="#17bd76" stroke="#0d6137" stroke-width="1"/>
<rect x="1417" y="351.2" width="1" height="58.2" fill="#2f3a36"/>
<rect x="1415.5" y="369.7" width="4" height="39.2" fill="#17bd76" stroke="#0d6137" stroke-width="1"/>
<rect x="1424" y="356.0" width="1" height="17.7" fill="#2f3a36"/>
<rect x="1422.5" y="364.8" width="4" height="8.4" fill="#f2665d" stroke="#63130f" stroke-width="1"/>
<rect x="1432" y="383.5" width="1" height="53.2" fill="#2f3a36"/>
<rect x="1430.5" y="384.0" width="4" height="8.3" fill="#f2665d" stroke="#63130f" stroke-width="1"/>
<rect x="1439" y="394.3" width="1" height="31.2" fill="#2f3a36"/>
<rect x="1437.5" y="396.7" width="4" height="27.5" fill="#f2665d" stroke="#63130f" stroke-width="1"/>
<rect x="1446" y="413.9" width="1" height="26.8" fill="#2f3a36"/>
<rect x="1444.5" y="418.8" width="4" height="11.4" fill="#f2665d" stroke="#63130f" stroke-width="1"/>
<rect x="1454" y="428.2" width="1" height="12.5" fill="#2f3a36"/>
<rect x="1452" y="430.7" width="5" height="1" fill="#2f3a36"/>
<rect x="1461" y="414.2" width="1" height="18.3" fill="#2f3a36"/>
<rect x="1459.5" y="414.7" width="4" height="15.5" fill="#17bd76" stroke="#0d6137" stroke-width="1"/>
<rect x="1469" y="411.2" width="1" height="18.6" fill="#2f3a36"/>
<rect x="1467.5" y="411.7" width="4" height="12.5" fill="#f2665d" stroke="#63130f" stroke-width="1"/>
<rect x="1476" y="392.3" width="1" height="32.4" fill="#2f3a36"/>
<rect x="1474.5" y="396.7" width="4" height="27.5" fill="#17bd76" stroke="#0d6137" stroke-width="1"/>
<rect x="1484" y="398.3" width="1" height="30.4" fill="#2f3a36"/>
<rect x="1482.5" y="398.8" width="4" height="29.4" fill="#f2665d" stroke="#63130f" stroke-width="1"/>
<rect x="1491" y="424.2" width="1" height="11.3" fill="#2f3a36"/>
<rect x="1489.5" y="426.7" width="4" height="8.3" fill="#f2665d" stroke="#63130f" stroke-width="1"/>
<rect x="1498" y="426.5" width="1" height="29.2" fill="#2f3a36"/>
<rect x="1496.5" y="431.9" width="4" height="7.3" fill="#f2665d" stroke="#63130f" stroke-width="1"/>
<rect x="1506" y="413.7" width="1" height="33.8" fill="#2f3a36"/>
<rect x="1504.5" y="414.2" width="4" height="28.7" fill="#17bd76" stroke="#0d6137" stroke-width="1"/>
<rect x="1513" y="416.4" width="1" height="15.3" fill="#2f3a36"/>
<rect x="1511.5" y="418.7" width="4" height="12.5" fill="#f2665d" stroke="#63130f" stroke-width="1"/>
<rect x="1521" y="433.2" width="1" height="7.5" fill="#2f3a36"/>
<rect x="1519" y="432.7" width="5" height="1" fill="#2f3a36"/>
<rect x="1528" y="418.2" width="1" height="16.5" fill="#2f3a36"/>
<rect x="1526.5" y="418.7" width="4" height="12.2" fill="#17bd76" stroke="#0d6137" stroke-width="1"/>
<rect x="1535" y="420.2" width="1" height="11.5" fill="#2f3a36"/>
<rect x="1533.5" y="420.7" width="4" height="10.5" fill="#f2665d" stroke="#63130f" stroke-width="1"/>
<rect x="1543" y="396.2" width="1" height="35.5" fill="#2f3a36"/>
<rect x="1541.5" y="399.7" width="4" height="31.5" fill="#17bd76" stroke="#0d6137" stroke-width="1"/>
<rect x="1550" y="386.0" width="1" height="33.3" fill="#2f3a36"/>
<rect x="1548.5" y="398.8" width="4" height="17.1" fill="#f2665d" stroke="#63130f" stroke-width="1"/>
<rect x="1558" y="403.2" width="1" height="11.3" fill="#2f3a36"/>
<rect x="1556.5" y="407.8" width="4" height="6.2" fill="#17bd76" stroke="#0d6137" stroke-width="1"/>
<rect x="1565" y="360.2" width="1" height="60.3" fill="#2f3a36"/>
<rect x="1563.5" y="386.8" width="4" height="33.2" fill="#17bd76" stroke="#0d6137" stroke-width="1"/>
<rect x="1572" y="341.0" width="1" height="57.7" fill="#2f3a36"/>
<rect x="1570.5" y="352.7" width="4" height="37.3" fill="#17bd76" stroke="#0d6137" stroke-width="1"/>
<rect x="1580" y="354.0" width="1" height="29.4" fill="#2f3a36"/>
<rect x="1578.5" y="354.5" width="4" height="24.5" fill="#f2665d" stroke="#63130f" stroke-width="1"/>
<rect x="1587" y="360.2" width="1" height="21.3" fill="#2f3a36"/>
<rect x="1585.5" y="362.9" width="4" height="18.1" fill="#17bd76" stroke="#0d6137" stroke-width="1"/>
</g>
<rect x="1792" y="37" width="1" height="812" fill="#4d4d4d"/>
<rect x="1" y="659" width="1840" height="1" fill="#4d4d4d"/>
<rect x="1" y="848" width="1792" height="1" fill="#4d4d4d"/>
<rect x="1793" y="54.6" width="3" height="1" fill="#4d4d4d"/>
<text x="1799" y="59.1" font-family='"Liberation Sans", sans-serif' font-size="11" fill="#555" text-anchor="start" font-weight="normal" textLength="33" lengthAdjust="spacingAndGlyphs">0.1760</text>
<rect x="1793" y="92.1" width="3" height="1" fill="#4d4d4d"/>
<text x="1799" y="96.6" font-family='"Liberation Sans", sans-serif' font-size="11" fill="#555" text-anchor="start" font-weight="normal" textLength="33" lengthAdjust="spacingAndGlyphs">0.1740</text>
<rect x="1793" y="129.6" width="3" height="1" fill="#4d4d4d"/>
<text x="1799" y="134.1" font-family='"Liberation Sans", sans-serif' font-size="11" fill="#555" text-anchor="start" font-weight="normal" textLength="33" lengthAdjust="spacingAndGlyphs">0.1720</text>
<rect x="1793" y="167.2" width="3" height="1" fill="#4d4d4d"/>
<text x="1799" y="171.7" font-family='"Liberation Sans", sans-serif' font-size="11" fill="#555" text-anchor="start" font-weight="normal" textLength="33" lengthAdjust="spacingAndGlyphs">0.1700</text>
<rect x="1793" y="204.7" width="3" height="1" fill="#4d4d4d"/>
<text x="1799" y="209.2" font-family='"Liberation Sans", sans-serif' font-size="11" fill="#555" text-anchor="start" font-weight="normal" textLength="33" lengthAdjust="spacingAndGlyphs">0.1680</text>
<rect x="1793" y="242.2" width="3" height="1" fill="#4d4d4d"/>
<text x="1799" y="246.7" font-family='"Liberation Sans", sans-serif' font-size="11" fill="#555" text-anchor="start" font-weight="normal" textLength="33" lengthAdjust="spacingAndGlyphs">0.1660</text>
<rect x="1793" y="279.7" width="3" height="1" fill="#4d4d4d"/>
<text x="1799" y="284.2" font-family='"Liberation Sans", sans-serif' font-size="11" fill="#555" text-anchor="start" font-weight="normal" textLength="33" lengthAdjust="spacingAndGlyphs">0.1640</text>
<rect x="1793" y="317.2" width="3" height="1" fill="#4d4d4d"/>
<text x="1799" y="321.7" font-family='"Liberation Sans", sans-serif' font-size="11" fill="#555" text-anchor="start" font-weight="normal" textLength="33" lengthAdjust="spacingAndGlyphs">0.1620</text>
<rect x="1793" y="392.3" width="3" height="1" fill="#4d4d4d"/>
<text x="1799" y="396.8" font-family='"Liberation Sans", sans-serif' font-size="11" fill="#555" text-anchor="start" font-weight="normal" textLength="33" lengthAdjust="spacingAndGlyphs">0.1580</text>
<rect x="1793" y="429.8" width="3" height="1" fill="#4d4d4d"/>
<text x="1799" y="434.3" font-family='"Liberation Sans", sans-serif' font-size="11" fill="#555" text-anchor="start" font-weight="normal" textLength="33" lengthAdjust="spacingAndGlyphs">0.1560</text>
<rect x="1793" y="467.3" width="3" height="1" fill="#4d4d4d"/>
<text x="1799" y="471.8" font-family='"Liberation Sans", sans-serif' font-size="11" fill="#555" text-anchor="start" font-weight="normal" textLength="33" lengthAdjust="spacingAndGlyphs">0.1540</text>
<rect x="1793" y="504.8" width="3" height="1" fill="#4d4d4d"/>
<text x="1799" y="509.3" font-family='"Liberation Sans", sans-serif' font-size="11" fill="#555" text-anchor="start" font-weight="normal" textLength="33" lengthAdjust="spacingAndGlyphs">0.1520</text>
<rect x="1793" y="542.4" width="3" height="1" fill="#4d4d4d"/>
<text x="1799" y="546.9" font-family='"Liberation Sans", sans-serif' font-size="11" fill="#555" text-anchor="start" font-weight="normal" textLength="33" lengthAdjust="spacingAndGlyphs">0.1500</text>
<rect x="1793" y="579.9" width="3" height="1" fill="#4d4d4d"/>
<text x="1799" y="584.4" font-family='"Liberation Sans", sans-serif' font-size="11" fill="#555" text-anchor="start" font-weight="normal" textLength="33" lengthAdjust="spacingAndGlyphs">0.1480</text>
<rect x="1793" y="617.4" width="3" height="1" fill="#4d4d4d"/>
<text x="1799" y="621.9" font-family='"Liberation Sans", sans-serif' font-size="11" fill="#555" text-anchor="start" font-weight="normal" textLength="33" lengthAdjust="spacingAndGlyphs">0.1460</text>
<rect x="1793" y="654.9" width="3" height="1" fill="#4d4d4d"/>
<text x="1799" y="659.4" font-family='"Liberation Sans", sans-serif' font-size="11" fill="#555" text-anchor="start" font-weight="normal" textLength="33" lengthAdjust="spacingAndGlyphs">0.1440</text>
<rect x="1793" y="701.6" width="3" height="1" fill="#4d4d4d"/>
<text x="1799.2" y="706.1" font-family='"Liberation Sans", sans-serif' font-size="11" fill="#555" text-anchor="start" font-weight="normal" textLength="21" lengthAdjust="spacingAndGlyphs">30M</text>
<rect x="1793" y="746.7" width="3" height="1" fill="#4d4d4d"/>
<text x="1799.2" y="751.2" font-family='"Liberation Sans", sans-serif' font-size="11" fill="#555" text-anchor="start" font-weight="normal" textLength="21" lengthAdjust="spacingAndGlyphs">20M</text>
<rect x="1793" y="791.8" width="3" height="1" fill="#4d4d4d"/>
<text x="1799.2" y="796.3" font-family='"Liberation Sans", sans-serif' font-size="11" fill="#555" text-anchor="start" font-weight="normal" textLength="21" lengthAdjust="spacingAndGlyphs">10M</text>
<text x="1799.2" y="842" font-family='"Liberation Sans", sans-serif' font-size="11" fill="#555" text-anchor="start" font-weight="normal">0</text>
<rect x="1793" y="660" width="47" height="3" fill="#fff"/>
<rect x="1" y="659" width="1840" height="1" fill="#4d4d4d"/>
<rect x="1792" y="327" width="45" height="16" fill="#000"/>
<rect x="1793" y="334.5" width="3" height="1" fill="#fff"/>
<text x="1799" y="339.0" font-family='"Liberation Sans", sans-serif' font-size="11" fill="#fff" text-anchor="start" font-weight="bold" textLength="33" lengthAdjust="spacingAndGlyphs">0.1611</text>
<rect x="1792" y="346" width="45" height="16" fill="#000"/>
<rect x="1793" y="353.5" width="3" height="1" fill="#fff"/>
<text x="1799" y="358.0" font-family='"Liberation Sans", sans-serif' font-size="11" fill="#fff" text-anchor="start" font-weight="bold" textLength="33" lengthAdjust="spacingAndGlyphs">0.1601</text>
<rect x="1792" y="362" width="45" height="16" fill="#3d74dd"/>
<rect x="1793" y="369.5" width="3" height="1" fill="#fff"/>
<text x="1799" y="374.0" font-family='"Liberation Sans", sans-serif' font-size="11" fill="#fff" text-anchor="start" font-weight="bold" textLength="33" lengthAdjust="spacingAndGlyphs">0.1596</text>
<rect x="1792" y="804" width="48" height="16" fill="#000"/>
<rect x="1793" y="811.5" width="3" height="1" fill="#fff"/>
<text x="1799" y="816" font-family='"Liberation Sans", sans-serif' font-size="11" fill="#fff" text-anchor="start" font-weight="bold" textLength="36" lengthAdjust="spacingAndGlyphs">5.634M</text>
<rect x="1792" y="823" width="48" height="16" fill="#1cc27a"/>
<rect x="1793" y="830.5" width="3" height="1" fill="#fff"/>
<text x="1799" y="835" font-family='"Liberation Sans", sans-serif' font-size="11" fill="#fff" text-anchor="start" font-weight="bold" textLength="36" lengthAdjust="spacingAndGlyphs">1.503M</text>
<rect x="99" y="849" width="1" height="3" fill="#4d4d4d"/>
<text x="99.7" y="863" font-family='"Liberation Sans", sans-serif' font-size="11" fill="#555" text-anchor="middle" font-weight="normal">23</text>
<rect x="232" y="849" width="1" height="3" fill="#4d4d4d"/>
<text x="233.0" y="863" font-family='"Liberation Sans", sans-serif' font-size="11" fill="#555" text-anchor="middle" font-weight="normal">27</text>
<rect x="366" y="849" width="1" height="3" fill="#4d4d4d"/>
<text x="366.4" y="863" font-family='"Liberation Sans", sans-serif' font-size="11" fill="#555" text-anchor="middle" font-weight="normal">29</text>
<rect x="499" y="849" width="1" height="3" fill="#4d4d4d"/>
<text x="499.7" y="863" font-family='"Liberation Sans", sans-serif' font-size="11" fill="#555" text-anchor="middle" font-weight="bold">Out</text>
<rect x="632" y="849" width="1" height="3" fill="#4d4d4d"/>
<text x="633.0" y="863" font-family='"Liberation Sans", sans-serif' font-size="11" fill="#555" text-anchor="middle" font-weight="normal">5</text>
<rect x="766" y="849" width="1" height="3" fill="#4d4d4d"/>
<text x="766.4" y="863" font-family='"Liberation Sans", sans-serif' font-size="11" fill="#555" text-anchor="middle" font-weight="normal">7</text>
<rect x="899" y="849" width="1" height="3" fill="#4d4d4d"/>
<text x="899.7" y="863" font-family='"Liberation Sans", sans-serif' font-size="11" fill="#555" text-anchor="middle" font-weight="normal">11</text>
<rect x="1032" y="849" width="1" height="3" fill="#4d4d4d"/>
<text x="1033.0" y="863" font-family='"Liberation Sans", sans-serif' font-size="11" fill="#555" text-anchor="middle" font-weight="normal">13</text>
<rect x="1166" y="849" width="1" height="3" fill="#4d4d4d"/>
<text x="1166.4" y="863" font-family='"Liberation Sans", sans-serif' font-size="11" fill="#555" text-anchor="middle" font-weight="normal">15</text>
<rect x="1299" y="849" width="1" height="3" fill="#4d4d4d"/>
<text x="1299.7" y="863" font-family='"Liberation Sans", sans-serif' font-size="11" fill="#555" text-anchor="middle" font-weight="normal">19</text>
<rect x="1432" y="849" width="1" height="3" fill="#4d4d4d"/>
<text x="1433.0" y="863" font-family='"Liberation Sans", sans-serif' font-size="11" fill="#555" text-anchor="middle" font-weight="normal">21</text>
<rect x="1566" y="849" width="1" height="3" fill="#4d4d4d"/>
<text x="1566.4" y="863" font-family='"Liberation Sans", sans-serif' font-size="11" fill="#555" text-anchor="middle" font-weight="normal">25</text>
<rect x="1699" y="849" width="1" height="3" fill="#4d4d4d"/>
<text x="1699.7" y="863" font-family='"Liberation Sans", sans-serif' font-size="11" fill="#555" text-anchor="middle" font-weight="normal">27</text>
<rect x="6.5" y="49.5" width="12" height="12" rx="1.5" fill="#fff" stroke="#555" stroke-width="1"/>
<rect x="9" y="55" width="7" height="1.2" fill="#555"/>
<text x="25.5" y="62" font-family='"Liberation Sans", sans-serif' font-size="16" fill="#4a4a4a" text-anchor="start" font-weight="normal" textLength="367.5" lengthAdjust="spacingAndGlyphs">Banco Comercial Português, Portugal, 60, Lisboa</text>
<path d="M399.25 54.75 L405.75 54.75 L402.5 58.25 Z" fill="#c8c8c8"/>
<rect x="416.2" y="49.5" width="13" height="13" fill="#dcdcdc"/>
<g shape-rendering="geometricPrecision">
<circle cx="422.7" cy="56.0" r="3.8" fill="none" stroke="#fff" stroke-width="1.4"/><circle cx="422.7" cy="56.0" r="1.4" fill="#fff"/>
</g>
<rect x="433.2" y="49.5" width="13" height="13" fill="#dcdcdc"/>
<g shape-rendering="geometricPrecision">
<path d="M438.72 52.85 L438.70 51.51 L440.70 51.51 L440.68 52.85 L441.24 53.08 L442.16 52.12 L443.58 53.54 L442.62 54.46 L442.85 55.02 L444.19 55.00 L444.19 57.00 L442.85 56.98 L442.62 57.54 L443.58 58.46 L442.16 59.88 L441.24 58.92 L440.68 59.15 L440.70 60.49 L438.70 60.49 L438.72 59.15 L438.16 58.92 L437.24 59.88 L435.82 58.46 L436.78 57.54 L436.55 56.98 L435.21 57.00 L435.21 55.00 L436.55 55.02 L436.78 54.46 L435.82 53.54 L437.24 52.12 L438.16 53.08 Z" fill="#fff"/><circle cx="439.7" cy="56.0" r="1.6" fill="#dcdcdc"/>
</g>
<text x="455.5" y="61.5" font-family='"Liberation Sans", sans-serif' font-size="14" fill="#666" text-anchor="start" font-weight="normal" textLength="21.5" lengthAdjust="spacingAndGlyphs">Abr</text>
<text x="479.5" y="61.5" font-family='"Liberation Sans", sans-serif' font-size="14" fill="#3c6e51" text-anchor="start" font-weight="normal" textLength="43.5" lengthAdjust="spacingAndGlyphs">0.1586</text>
<text x="533.7" y="61.5" font-family='"Liberation Sans", sans-serif' font-size="14" fill="#666" text-anchor="start" font-weight="normal" textLength="24.5" lengthAdjust="spacingAndGlyphs">Max</text>
<text x="561" y="61.5" font-family='"Liberation Sans", sans-serif' font-size="14" fill="#3c6e51" text-anchor="start" font-weight="normal" textLength="43.5" lengthAdjust="spacingAndGlyphs">0.1597</text>
<text x="615" y="61.5" font-family='"Liberation Sans", sans-serif' font-size="14" fill="#666" text-anchor="start" font-weight="normal" textLength="22" lengthAdjust="spacingAndGlyphs">Min</text>
<text x="639.1" y="61.5" font-family='"Liberation Sans", sans-serif' font-size="14" fill="#3c6e51" text-anchor="start" font-weight="normal" textLength="43.5" lengthAdjust="spacingAndGlyphs">0.1586</text>
<text x="693.8" y="61.5" font-family='"Liberation Sans", sans-serif' font-size="14" fill="#666" text-anchor="start" font-weight="normal" textLength="23" lengthAdjust="spacingAndGlyphs">Fch</text>
<text x="717.7" y="61.5" font-family='"Liberation Sans", sans-serif' font-size="14" fill="#3c6e51" text-anchor="start" font-weight="normal" textLength="43.5" lengthAdjust="spacingAndGlyphs">0.1596</text>
<text x="14.3" y="642.6" font-family='"Liberation Sans", sans-serif' font-size="20.5" fill="#000" text-anchor="start" font-weight="bold" textLength="89.2" lengthAdjust="spacingAndGlyphs" stroke="#000" stroke-width="0.7">Investing</text>
<rect x="74.3" y="626.5" width="3" height="3" fill="#f2c500"/>
<text x="104.5" y="642.6" font-family='"Liberation Sans", sans-serif' font-size="15" fill="#555" text-anchor="start" font-weight="normal" textLength="28.5" lengthAdjust="spacingAndGlyphs">.com</text>
<text x="6.8" y="679" font-family='"Liberation Sans", sans-serif' font-size="12" fill="#555" text-anchor="start" font-weight="normal" textLength="63" lengthAdjust="spacingAndGlyphs">Volume (20)</text>
<path d="M75.0 673.1999999999999 L81.0 673.1999999999999 L78 676.4 Z" fill="#c8c8c8"/>
<rect x="92" y="668.2" width="13.5" height="13.5" fill="#dcdcdc"/>
<g shape-rendering="geometricPrecision">
<circle cx="98.75" cy="674.95" r="3.8" fill="none" stroke="#fff" stroke-width="1.4"/><circle cx="98.75" cy="674.95" r="1.4" fill="#fff"/>
</g>
<rect x="109" y="668.2" width="13.5" height="13.5" fill="#dcdcdc"/>
<g shape-rendering="geometricPrecision">
<path d="M114.77 671.80 L114.75 670.46 L116.75 670.46 L116.73 671.80 L117.29 672.03 L118.21 671.07 L119.63 672.49 L118.67 673.41 L118.90 673.97 L120.24 673.95 L120.24 675.95 L118.90 675.93 L118.67 676.49 L119.63 677.41 L118.21 678.83 L117.29 677.87 L116.73 678.10 L116.75 679.44 L114.75 679.44 L114.77 678.10 L114.21 677.87 L113.29 678.83 L111.87 677.41 L112.83 676.49 L112.60 675.93 L111.26 675.95 L111.26 673.95 L112.60 673.97 L112.83 673.41 L111.87 672.49 L113.29 671.07 L114.21 672.03 Z" fill="#fff"/><circle cx="115.75" cy="674.95" r="1.6" fill="#dcdcdc"/>
</g>
<rect x="126" y="668.2" width="13.5" height="13.5" fill="#dcdcdc"/>
<g shape-rendering="geometricPrecision">
<path d="M128.95 671.1500000000001 L136.55 678.75 M136.55 671.1500000000001 L128.95 678.75" stroke="#fff" stroke-width="1.6"/>
</g>
<text x="149" y="679" font-family='"Liberation Sans", sans-serif' font-size="12" fill="#24c184" text-anchor="start" font-weight="normal" textLength="37.6" lengthAdjust="spacingAndGlyphs">1.503M</text>
<text x="196.6" y="679" font-family='"Liberation Sans", sans-serif' font-size="12" fill="#111" text-anchor="start" font-weight="normal" textLength="37.6" lengthAdjust="spacingAndGlyphs">5.634M</text>
</svg>
</body></html>
